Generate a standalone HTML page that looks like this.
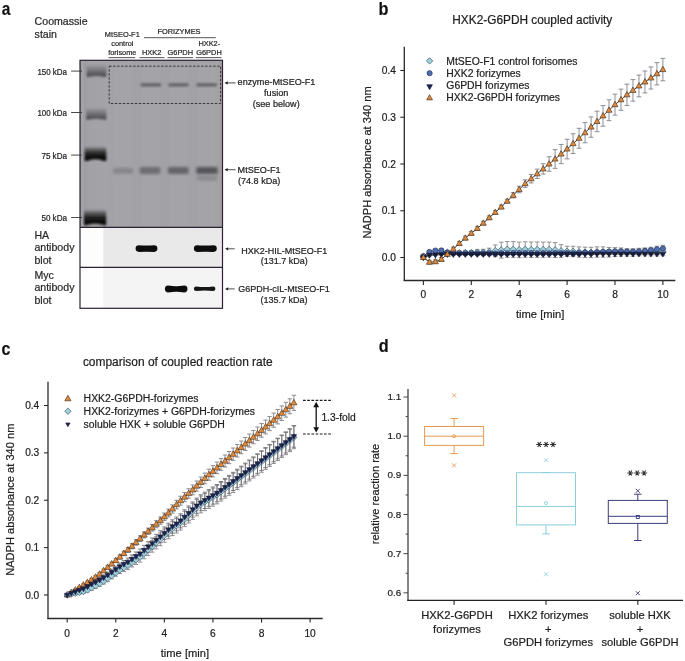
<!DOCTYPE html>
<html><head><meta charset="utf-8"><style>
html,body{margin:0;padding:0;background:#fff;}
body{width:685px;height:661px;position:relative;overflow:hidden;font-family:"Liberation Sans", sans-serif;}
svg text{font-family:"Liberation Sans", sans-serif;stroke:#1a1a1a;stroke-width:0.2px;}
</style></head><body>
<svg width="685" height="661" viewBox="0 0 685 661" style="position:absolute;left:0;top:0;filter:blur(0.38px)">
<defs>
<filter id="bl1" x="-50%" y="-50%" width="200%" height="200%"><feGaussianBlur stdDeviation="0.9"/></filter>
<filter id="bl2" x="-50%" y="-50%" width="200%" height="200%"><feGaussianBlur stdDeviation="1.4"/></filter>
<filter id="bl12" x="-50%" y="-50%" width="200%" height="200%"><feGaussianBlur stdDeviation="1.2"/></filter>
<filter id="bl05" x="-50%" y="-50%" width="200%" height="200%"><feGaussianBlur stdDeviation="0.5"/></filter>
<linearGradient id="gelg" x1="0" y1="0" x2="1" y2="0">
<stop offset="0" stop-color="#8e8e92"/><stop offset="0.04" stop-color="#9a9a9e"/><stop offset="0.2" stop-color="#a4a4a8"/><stop offset="0.3" stop-color="#acacb0"/><stop offset="1" stop-color="#a9a9ad"/>
</linearGradient>
</defs>
<text transform="translate(1.8,15.1) scale(0.86,1)" font-size="18" font-weight="bold" fill="#111">a</text>
<text x="34.60" y="25.40" font-size="10.6" text-anchor="start" fill="#2a2a2a" font-weight="normal" >Coomassie</text>
<text x="34.60" y="37.70" font-size="10.6" text-anchor="start" fill="#2a2a2a" font-weight="normal" >stain</text>
<text x="122.30" y="37.10" font-size="7.4" text-anchor="middle" fill="#2a2a2a" font-weight="normal" >MtSEO-F1</text>
<text x="122.30" y="46.20" font-size="7.4" text-anchor="middle" fill="#2a2a2a" font-weight="normal" >control</text>
<text x="122.30" y="55.10" font-size="7.4" text-anchor="middle" fill="#2a2a2a" font-weight="normal" >forisome</text>
<text x="179.00" y="34.20" font-size="7.4" text-anchor="middle" fill="#2a2a2a" font-weight="normal" >FORIZYMES</text>
<line x1="144.00" y1="37.70" x2="215.80" y2="37.70" stroke="#444" stroke-width="0.9" />
<text x="151.60" y="55.10" font-size="7.4" text-anchor="middle" fill="#2a2a2a" font-weight="normal" >HXK2</text>
<text x="180.30" y="55.10" font-size="7.4" text-anchor="middle" fill="#2a2a2a" font-weight="normal" >G6PDH</text>
<text x="209.30" y="45.80" font-size="7.4" text-anchor="middle" fill="#2a2a2a" font-weight="normal" >HXK2-</text>
<text x="209.00" y="55.10" font-size="7.4" text-anchor="middle" fill="#2a2a2a" font-weight="normal" >G6PDH</text>
<line x1="108.50" y1="57.60" x2="135.10" y2="57.60" stroke="#666" stroke-width="1.1" />
<line x1="139.50" y1="57.60" x2="164.50" y2="57.60" stroke="#666" stroke-width="1.1" />
<line x1="167.40" y1="57.60" x2="193.00" y2="57.60" stroke="#666" stroke-width="1.1" />
<line x1="195.80" y1="57.60" x2="221.50" y2="57.60" stroke="#666" stroke-width="1.1" />
<linearGradient id="gelg2" x1="0" y1="0" x2="1" y2="0"><stop offset="0" stop-color="#8a898e"/><stop offset="0.012" stop-color="#a8a7ac"/><stop offset="0.03" stop-color="#9e9da2"/><stop offset="0.06" stop-color="#a2a1a5"/><stop offset="0.19" stop-color="#a4a3a7"/><stop offset="0.24" stop-color="#a2a1a5"/><stop offset="1" stop-color="#a2a1a5"/></linearGradient>
<rect x="80.0" y="60.3" width="142.5" height="167" fill="url(#gelg2)"/>
<rect x="113.7" y="61" width="18" height="166" fill="#a9a8ac" opacity="0.4" filter="url(#bl2)"/>
<rect x="142" y="61" width="18" height="166" fill="#a9a8ac" opacity="0.4" filter="url(#bl2)"/>
<rect x="169.9" y="61" width="18" height="166" fill="#a9a8ac" opacity="0.4" filter="url(#bl2)"/>
<rect x="197.7" y="61" width="18" height="166" fill="#a9a8ac" opacity="0.4" filter="url(#bl2)"/>
<linearGradient id="lb" x1="0" y1="0" x2="0" y2="1"><stop offset="0" stop-color="#707074" stop-opacity="0.05"/><stop offset="0.3" stop-color="#68686c" stop-opacity="0.5"/><stop offset="0.65" stop-color="#58585c" stop-opacity="0.85"/><stop offset="1" stop-color="#4a4a4e" stop-opacity="1"/></linearGradient>
<linearGradient id="lbd" x1="0" y1="0" x2="0" y2="1"><stop offset="0" stop-color="#444" stop-opacity="0.1"/><stop offset="0.25" stop-color="#333" stop-opacity="0.7"/><stop offset="0.55" stop-color="#151515" stop-opacity="0.97"/><stop offset="1" stop-color="#0a0a0a" stop-opacity="1"/></linearGradient>
<path d="M86.6,65.5Q86.6,64.5 89.6,64.5L103.4,64.5Q106.4,64.5 106.4,65.5L106.4,76.4Q105.4,77.4 102.4,76.4Q96.5,75.5 90.6,76.4Q87.6,77.4 86.6,76.4Z" fill="url(#lb)" filter="url(#bl1)"/>
<path d="M86.2,108.5Q86.2,107.5 89.2,107.5L103.4,107.5Q106.4,107.5 106.4,108.5L106.4,119.2Q105.4,120.2 102.4,119.2Q96.30000000000001,118.3 90.2,119.2Q87.2,120.2 86.2,119.2Z" fill="url(#lb)" filter="url(#bl1)"/>
<path d="M84.6,147.5Q84.6,146.5 87.6,146.5L103.3,146.5Q106.3,146.5 106.3,147.5L106.3,160.4Q105.3,161.4 102.3,160.4Q95.44999999999999,158.0 88.6,160.4Q85.6,161.4 84.6,160.4Z" fill="url(#lbd)" filter="url(#bl12)"/>
<path d="M84.0,210.5Q84.0,209.5 87.0,209.5L103.2,209.5Q106.2,209.5 106.2,210.5L106.2,224.8Q105.2,225.8 102.2,224.8Q95.1,222.8 88.0,224.8Q85.0,225.8 84.0,224.8Z" fill="url(#lbd)" filter="url(#bl12)"/>
<rect x="113" y="167.8" width="20" height="6.0" rx="2" fill="#7c7c80" opacity="0.72" filter="url(#bl2)"/>
<rect x="139.6" y="167.1" width="20.80000000000001" height="7.0" rx="2" fill="#646468" opacity="0.85" filter="url(#bl2)"/>
<rect x="167.9" y="167.1" width="20.799999999999983" height="7.0" rx="2" fill="#5c5c60" opacity="0.88" filter="url(#bl2)"/>
<rect x="196.2" y="166.9" width="21.600000000000023" height="7.0" rx="2" fill="#505054" opacity="0.92" filter="url(#bl2)"/>
<rect x="196.7" y="175.79999999999998" width="20.600000000000023" height="4.8" rx="2" fill="#7e7e82" opacity="0.7" filter="url(#bl2)"/>
<rect x="140.5" y="83.2" width="20.80000000000001" height="3.2" rx="1.6" fill="#5c5c60" opacity="0.9" filter="url(#bl1)"/>
<rect x="168.2" y="83.2" width="20.5" height="3.2" rx="1.6" fill="#5c5c60" opacity="0.9" filter="url(#bl1)"/>
<rect x="196.2" y="83.2" width="20.80000000000001" height="3.2" rx="1.6" fill="#5c5c60" opacity="0.9" filter="url(#bl1)"/>
<rect x="109.2" y="66.2" width="111.4" height="37.3" fill="none" stroke="#2a2a2a" stroke-width="0.9" stroke-dasharray="2.4,1.6"/>
<rect x="80.0" y="227.3" width="142.5" height="40" fill="#e9e9e9"/>
<rect x="80.0" y="227.3" width="23.3" height="40" fill="#fdfdfd"/>
<rect x="80.0" y="267.3" width="142.5" height="41" fill="#f4f4f4"/>
<rect x="80.0" y="267.3" width="23.3" height="41" fill="#fefefe"/>
<path d="M138.9,245.29999999999998Q146.5,245.7 154.1,245.29999999999998A3.3,3.3 0 0 1 154.1,251.9Q146.5,251.5 138.9,251.9A3.3,3.3 0 0 1 138.9,245.29999999999998Z" fill="#111" filter="url(#bl05)"/>
<path d="M197.20000000000002,245.29999999999998Q205.35000000000002,245.7 213.5,245.29999999999998A3.3,3.3 0 0 1 213.5,251.9Q205.35000000000002,251.5 197.20000000000002,251.9A3.3,3.3 0 0 1 197.20000000000002,245.29999999999998Z" fill="#111" filter="url(#bl05)"/>
<path d="M168.3,285.6Q176.2,286.8 184.1,285.6A3.4,3.4 0 0 1 184.1,292.4Q176.2,291.2 168.3,292.4A3.4,3.4 0 0 1 168.3,285.6Z" fill="#111" filter="url(#bl05)"/>
<path d="M196.20000000000002,286.5Q204.65,287.5 213.1,286.5A2.3,2.3 0 0 1 213.1,291.1Q204.65,290.1 196.20000000000002,291.1A2.3,2.3 0 0 1 196.20000000000002,286.5Z" fill="#161616" filter="url(#bl05)"/>
<rect x="80.0" y="60.3" width="142.5" height="248" fill="none" stroke="#2c2232" stroke-width="1.2"/>
<line x1="80.00" y1="227.30" x2="222.50" y2="227.30" stroke="#2c2232" stroke-width="1.2" />
<line x1="80.00" y1="267.30" x2="222.50" y2="267.30" stroke="#2c2232" stroke-width="1.2" />
<text x="67.00" y="74.70" font-size="8.3" text-anchor="end" fill="#1e1e1e" font-weight="normal" textLength="29.6" lengthAdjust="spacingAndGlyphs">150 kDa</text>
<line x1="71.10" y1="71.10" x2="82.00" y2="71.10" stroke="#333" stroke-width="0.9" />
<text x="67.00" y="116.10" font-size="8.3" text-anchor="end" fill="#1e1e1e" font-weight="normal" textLength="29.6" lengthAdjust="spacingAndGlyphs">100 kDa</text>
<line x1="71.10" y1="112.50" x2="82.00" y2="112.50" stroke="#333" stroke-width="0.9" />
<text x="67.00" y="158.70" font-size="8.3" text-anchor="end" fill="#1e1e1e" font-weight="normal" textLength="25.6" lengthAdjust="spacingAndGlyphs">75 kDa</text>
<line x1="71.10" y1="155.10" x2="82.00" y2="155.10" stroke="#333" stroke-width="0.9" />
<text x="67.00" y="221.10" font-size="8.3" text-anchor="end" fill="#1e1e1e" font-weight="normal" textLength="25.6" lengthAdjust="spacingAndGlyphs">50 kDa</text>
<line x1="71.10" y1="217.50" x2="82.00" y2="217.50" stroke="#333" stroke-width="0.9" />
<text x="34.40" y="238.90" font-size="10.6" text-anchor="start" fill="#2a2a2a" font-weight="normal" >HA</text>
<text x="34.40" y="251.20" font-size="10.6" text-anchor="start" fill="#2a2a2a" font-weight="normal" >antibody</text>
<text x="34.40" y="263.50" font-size="10.6" text-anchor="start" fill="#2a2a2a" font-weight="normal" >blot</text>
<text x="34.40" y="278.90" font-size="10.6" text-anchor="start" fill="#2a2a2a" font-weight="normal" >Myc</text>
<text x="34.40" y="291.20" font-size="10.6" text-anchor="start" fill="#2a2a2a" font-weight="normal" >antibody</text>
<text x="34.40" y="303.50" font-size="10.6" text-anchor="start" fill="#2a2a2a" font-weight="normal" >blot</text>
<path d="M235.6,82.9H226.5" stroke="#222" stroke-width="0.8"/>
<path d="M224.5,82.9L227.7,81.30000000000001L227.7,84.5Z" fill="#222"/>
<text x="237.60" y="85.40" font-size="9.1" text-anchor="start" fill="#222" font-weight="normal" >enzyme-MtSEO-F1</text>
<text x="276.20" y="96.00" font-size="9.1" text-anchor="middle" fill="#222" font-weight="normal" >fusion</text>
<text x="276.20" y="106.60" font-size="9.1" text-anchor="middle" fill="#222" font-weight="normal" >(see below)</text>
<path d="M235.6,169.7H226.5" stroke="#222" stroke-width="0.8"/>
<path d="M224.5,169.7L227.7,168.1L227.7,171.29999999999998Z" fill="#222"/>
<text x="237.60" y="173.30" font-size="9.1" text-anchor="start" fill="#222" font-weight="normal" >MtSEO-F1</text>
<text x="237.90" y="183.90" font-size="9.1" text-anchor="start" fill="#222" font-weight="normal" >(74.8 kDa)</text>
<path d="M234.7,248.8H227" stroke="#222" stroke-width="0.8"/>
<path d="M225,248.8L228.2,247.20000000000002L228.2,250.4Z" fill="#222"/>
<text x="284.20" y="253.50" font-size="9.0" text-anchor="middle" fill="#222" font-weight="normal" >HXK2-HIL-MtSEO-F1</text>
<text x="284.20" y="264.20" font-size="9.0" text-anchor="middle" fill="#222" font-weight="normal" >(131.7 kDa)</text>
<path d="M234.7,288.9H227" stroke="#222" stroke-width="0.8"/>
<path d="M225,288.9L228.2,287.29999999999995L228.2,290.5Z" fill="#222"/>
<text x="284.00" y="292.40" font-size="9.0" text-anchor="middle" fill="#222" font-weight="normal" >G6PDH-cIL-MtSEO-F1</text>
<text x="284.00" y="302.60" font-size="9.0" text-anchor="middle" fill="#222" font-weight="normal" >(135.7 kDa)</text>
<text transform="translate(378.4,14.6) scale(0.88,1)" font-size="18.4" font-weight="bold" fill="#111">b</text>
<text x="452.30" y="24.00" font-size="11.85" text-anchor="start" fill="#222" font-weight="normal" >HXK2-G6PDH coupled activity</text>
<line x1="404.30" y1="46.80" x2="404.30" y2="281.10" stroke="#2a2a2a" stroke-width="1.3" />
<line x1="403.70" y1="280.50" x2="675.30" y2="280.50" stroke="#2a2a2a" stroke-width="1.3" />
<line x1="400.30" y1="257.50" x2="404.30" y2="257.50" stroke="#2a2a2a" stroke-width="1.1" />
<text x="395.90" y="261.00" font-size="10.2" text-anchor="end" fill="#222" font-weight="normal" >0.0</text>
<line x1="400.30" y1="210.75" x2="404.30" y2="210.75" stroke="#2a2a2a" stroke-width="1.1" />
<text x="395.90" y="214.25" font-size="10.2" text-anchor="end" fill="#222" font-weight="normal" >0.1</text>
<line x1="400.30" y1="164.00" x2="404.30" y2="164.00" stroke="#2a2a2a" stroke-width="1.1" />
<text x="395.90" y="167.50" font-size="10.2" text-anchor="end" fill="#222" font-weight="normal" >0.2</text>
<line x1="400.30" y1="117.25" x2="404.30" y2="117.25" stroke="#2a2a2a" stroke-width="1.1" />
<text x="395.90" y="120.75" font-size="10.2" text-anchor="end" fill="#222" font-weight="normal" >0.3</text>
<line x1="400.30" y1="70.50" x2="404.30" y2="70.50" stroke="#2a2a2a" stroke-width="1.1" />
<text x="395.90" y="74.00" font-size="10.2" text-anchor="end" fill="#222" font-weight="normal" >0.4</text>
<line x1="423.40" y1="280.50" x2="423.40" y2="284.90" stroke="#2a2a2a" stroke-width="1.1" />
<text x="423.40" y="297.80" font-size="10.2" text-anchor="middle" fill="#222" font-weight="normal" >0</text>
<line x1="471.30" y1="280.50" x2="471.30" y2="284.90" stroke="#2a2a2a" stroke-width="1.1" />
<text x="471.30" y="297.80" font-size="10.2" text-anchor="middle" fill="#222" font-weight="normal" >2</text>
<line x1="519.20" y1="280.50" x2="519.20" y2="284.90" stroke="#2a2a2a" stroke-width="1.1" />
<text x="519.20" y="297.80" font-size="10.2" text-anchor="middle" fill="#222" font-weight="normal" >4</text>
<line x1="567.10" y1="280.50" x2="567.10" y2="284.90" stroke="#2a2a2a" stroke-width="1.1" />
<text x="567.10" y="297.80" font-size="10.2" text-anchor="middle" fill="#222" font-weight="normal" >6</text>
<line x1="615.00" y1="280.50" x2="615.00" y2="284.90" stroke="#2a2a2a" stroke-width="1.1" />
<text x="615.00" y="297.80" font-size="10.2" text-anchor="middle" fill="#222" font-weight="normal" >8</text>
<line x1="662.90" y1="280.50" x2="662.90" y2="284.90" stroke="#2a2a2a" stroke-width="1.1" />
<text x="662.90" y="297.80" font-size="10.2" text-anchor="middle" fill="#222" font-weight="normal" >10</text>
<text x="540.20" y="318.20" font-size="11.2" text-anchor="middle" fill="#222" font-weight="normal" >time [min]</text>
<text transform="translate(371.1,162.4) rotate(-90)" font-size="11.1" text-anchor="middle" fill="#222">NADPH absorbance at 340 nm</text>
<path d="M423.40,255.59V258.40M421.10,255.59H425.70M421.10,258.40H425.70" stroke="#7e7e86" stroke-width="0.85" fill="none"/>
<path d="M423.40,254.72V257.52M421.10,254.72H425.70M421.10,257.52H425.70" stroke="#7e7e86" stroke-width="0.85" fill="none"/>
<path d="M429.39,253.08V256.00M427.09,253.08H431.69M427.09,256.00H431.69" stroke="#7e7e86" stroke-width="0.85" fill="none"/>
<path d="M429.39,250.66V253.47M427.09,250.66H431.69M427.09,253.47H431.69" stroke="#7e7e86" stroke-width="0.85" fill="none"/>
<path d="M435.38,251.93V254.97M433.07,251.93H437.68M433.07,254.97H437.68" stroke="#7e7e86" stroke-width="0.85" fill="none"/>
<path d="M435.38,249.24V252.05M433.07,249.24H437.68M433.07,252.05H437.68" stroke="#7e7e86" stroke-width="0.85" fill="none"/>
<path d="M441.36,251.47V254.63M439.06,251.47H443.66M439.06,254.63H443.66" stroke="#7e7e86" stroke-width="0.85" fill="none"/>
<path d="M441.36,249.12V251.92M439.06,249.12H443.66M439.06,251.92H443.66" stroke="#7e7e86" stroke-width="0.85" fill="none"/>
<path d="M447.35,250.89V254.17M445.05,250.89H449.65M445.05,254.17H449.65" stroke="#7e7e86" stroke-width="0.85" fill="none"/>
<path d="M447.35,251.15V253.96M445.05,251.15H449.65M445.05,253.96H449.65" stroke="#7e7e86" stroke-width="0.85" fill="none"/>
<path d="M453.34,250.72V254.11M451.04,250.72H455.64M451.04,254.11H455.64" stroke="#7e7e86" stroke-width="0.85" fill="none"/>
<path d="M453.34,251.83V254.63M451.04,251.83H455.64M451.04,254.63H455.64" stroke="#7e7e86" stroke-width="0.85" fill="none"/>
<path d="M459.32,251.12V254.62M457.02,251.12H461.62M457.02,254.62H461.62" stroke="#7e7e86" stroke-width="0.85" fill="none"/>
<path d="M459.32,252.05V254.86M457.02,252.05H461.62M457.02,254.86H461.62" stroke="#7e7e86" stroke-width="0.85" fill="none"/>
<path d="M465.31,250.88V254.50M463.01,250.88H467.61M463.01,254.50H467.61" stroke="#7e7e86" stroke-width="0.85" fill="none"/>
<path d="M465.31,252.06V254.86M463.01,252.06H467.61M463.01,254.86H467.61" stroke="#7e7e86" stroke-width="0.85" fill="none"/>
<path d="M471.30,250.82V254.56M469.00,250.82H473.60M469.00,254.56H473.60" stroke="#7e7e86" stroke-width="0.85" fill="none"/>
<path d="M471.30,251.92V254.73M469.00,251.92H473.60M469.00,254.73H473.60" stroke="#7e7e86" stroke-width="0.85" fill="none"/>
<path d="M477.29,249.75V254.74M474.99,249.75H479.59M474.99,254.74H479.59" stroke="#7e7e86" stroke-width="0.85" fill="none"/>
<path d="M477.29,252.11V254.92M474.99,252.11H479.59M474.99,254.92H479.59" stroke="#7e7e86" stroke-width="0.85" fill="none"/>
<path d="M483.27,249.28V255.51M480.97,249.28H485.57M480.97,255.51H485.57" stroke="#7e7e86" stroke-width="0.85" fill="none"/>
<path d="M483.27,252.11V254.92M480.97,252.11H485.57M480.97,254.92H485.57" stroke="#7e7e86" stroke-width="0.85" fill="none"/>
<path d="M489.26,248.18V255.66M486.96,248.18H491.56M486.96,255.66H491.56" stroke="#7e7e86" stroke-width="0.85" fill="none"/>
<path d="M489.26,251.88V254.68M486.96,251.88H491.56M486.96,254.68H491.56" stroke="#7e7e86" stroke-width="0.85" fill="none"/>
<path d="M495.25,245.00V256.69M492.95,245.00H497.55M492.95,256.69H497.55" stroke="#7e7e86" stroke-width="0.85" fill="none"/>
<path d="M495.25,252.20V255.00M492.95,252.20H497.55M492.95,255.00H497.55" stroke="#7e7e86" stroke-width="0.85" fill="none"/>
<path d="M501.24,242.24V258.13M498.94,242.24H503.54M498.94,258.13H503.54" stroke="#7e7e86" stroke-width="0.85" fill="none"/>
<path d="M501.24,251.90V254.71M498.94,251.90H503.54M498.94,254.71H503.54" stroke="#7e7e86" stroke-width="0.85" fill="none"/>
<path d="M507.22,241.53V257.32M504.92,241.53H509.52M504.92,257.32H509.52" stroke="#7e7e86" stroke-width="0.85" fill="none"/>
<path d="M507.22,251.99V254.80M504.92,251.99H509.52M504.92,254.80H509.52" stroke="#7e7e86" stroke-width="0.85" fill="none"/>
<path d="M513.21,241.64V257.33M510.91,241.64H515.51M510.91,257.33H515.51" stroke="#7e7e86" stroke-width="0.85" fill="none"/>
<path d="M513.21,251.73V254.54M510.91,251.73H515.51M510.91,254.54H515.51" stroke="#7e7e86" stroke-width="0.85" fill="none"/>
<path d="M519.20,242.12V257.70M516.90,242.12H521.50M516.90,257.70H521.50" stroke="#7e7e86" stroke-width="0.85" fill="none"/>
<path d="M519.20,251.71V254.51M516.90,251.71H521.50M516.90,254.51H521.50" stroke="#7e7e86" stroke-width="0.85" fill="none"/>
<path d="M525.19,241.77V257.25M522.89,241.77H527.49M522.89,257.25H527.49" stroke="#7e7e86" stroke-width="0.85" fill="none"/>
<path d="M525.19,251.75V254.55M522.89,251.75H527.49M522.89,254.55H527.49" stroke="#7e7e86" stroke-width="0.85" fill="none"/>
<path d="M531.17,242.04V257.42M528.88,242.04H533.47M528.88,257.42H533.47" stroke="#7e7e86" stroke-width="0.85" fill="none"/>
<path d="M531.17,251.75V254.55M528.88,251.75H533.47M528.88,254.55H533.47" stroke="#7e7e86" stroke-width="0.85" fill="none"/>
<path d="M537.16,241.98V257.25M534.86,241.98H539.46M534.86,257.25H539.46" stroke="#7e7e86" stroke-width="0.85" fill="none"/>
<path d="M537.16,251.98V254.79M534.86,251.98H539.46M534.86,254.79H539.46" stroke="#7e7e86" stroke-width="0.85" fill="none"/>
<path d="M543.15,242.13V257.30M540.85,242.13H545.45M540.85,257.30H545.45" stroke="#7e7e86" stroke-width="0.85" fill="none"/>
<path d="M543.15,251.76V254.57M540.85,251.76H545.45M540.85,254.57H545.45" stroke="#7e7e86" stroke-width="0.85" fill="none"/>
<path d="M549.14,242.11V257.17M546.84,242.11H551.44M546.84,257.17H551.44" stroke="#7e7e86" stroke-width="0.85" fill="none"/>
<path d="M549.14,251.95V254.76M546.84,251.95H551.44M546.84,254.76H551.44" stroke="#7e7e86" stroke-width="0.85" fill="none"/>
<path d="M555.12,242.58V257.54M552.83,242.58H557.42M552.83,257.54H557.42" stroke="#7e7e86" stroke-width="0.85" fill="none"/>
<path d="M555.12,251.72V254.52M552.83,251.72H557.42M552.83,254.52H557.42" stroke="#7e7e86" stroke-width="0.85" fill="none"/>
<path d="M561.11,244.67V257.29M558.81,244.67H563.41M558.81,257.29H563.41" stroke="#7e7e86" stroke-width="0.85" fill="none"/>
<path d="M561.11,251.84V254.65M558.81,251.84H563.41M558.81,254.65H563.41" stroke="#7e7e86" stroke-width="0.85" fill="none"/>
<path d="M567.10,246.25V256.53M564.80,246.25H569.40M564.80,256.53H569.40" stroke="#7e7e86" stroke-width="0.85" fill="none"/>
<path d="M567.10,251.70V254.50M564.80,251.70H569.40M564.80,254.50H569.40" stroke="#7e7e86" stroke-width="0.85" fill="none"/>
<path d="M573.09,246.30V256.59M570.79,246.30H575.39M570.79,256.59H575.39" stroke="#7e7e86" stroke-width="0.85" fill="none"/>
<path d="M573.09,251.93V254.73M570.79,251.93H575.39M570.79,254.73H575.39" stroke="#7e7e86" stroke-width="0.85" fill="none"/>
<path d="M579.07,246.89V257.18M576.77,246.89H581.37M576.77,257.18H581.37" stroke="#7e7e86" stroke-width="0.85" fill="none"/>
<path d="M579.07,251.73V254.54M576.77,251.73H581.37M576.77,254.54H581.37" stroke="#7e7e86" stroke-width="0.85" fill="none"/>
<path d="M585.06,247.19V257.47M582.76,247.19H587.36M582.76,257.47H587.36" stroke="#7e7e86" stroke-width="0.85" fill="none"/>
<path d="M585.06,251.13V253.93M582.76,251.13H587.36M582.76,253.93H587.36" stroke="#7e7e86" stroke-width="0.85" fill="none"/>
<path d="M591.05,247.30V257.58M588.75,247.30H593.35M588.75,257.58H593.35" stroke="#7e7e86" stroke-width="0.85" fill="none"/>
<path d="M591.05,251.62V254.43M588.75,251.62H593.35M588.75,254.43H593.35" stroke="#7e7e86" stroke-width="0.85" fill="none"/>
<path d="M597.04,246.89V257.17M594.74,246.89H599.34M594.74,257.17H599.34" stroke="#7e7e86" stroke-width="0.85" fill="none"/>
<path d="M597.04,250.93V253.73M594.74,250.93H599.34M594.74,253.73H599.34" stroke="#7e7e86" stroke-width="0.85" fill="none"/>
<path d="M603.02,246.86V257.14M600.73,246.86H605.32M600.73,257.14H605.32" stroke="#7e7e86" stroke-width="0.85" fill="none"/>
<path d="M603.02,250.61V253.41M600.73,250.61H605.32M600.73,253.41H605.32" stroke="#7e7e86" stroke-width="0.85" fill="none"/>
<path d="M609.01,247.44V257.02M606.71,247.44H611.31M606.71,257.02H611.31" stroke="#7e7e86" stroke-width="0.85" fill="none"/>
<path d="M609.01,250.20V253.01M606.71,250.20H611.31M606.71,253.01H611.31" stroke="#7e7e86" stroke-width="0.85" fill="none"/>
<path d="M615.00,247.61V256.50M612.70,247.61H617.30M612.70,256.50H617.30" stroke="#7e7e86" stroke-width="0.85" fill="none"/>
<path d="M615.00,250.04V252.84M612.70,250.04H617.30M612.70,252.84H617.30" stroke="#7e7e86" stroke-width="0.85" fill="none"/>
<path d="M620.99,247.95V256.13M618.69,247.95H623.29M618.69,256.13H623.29" stroke="#7e7e86" stroke-width="0.85" fill="none"/>
<path d="M620.99,249.60V253.10M618.69,249.60H623.29M618.69,253.10H623.29" stroke="#7e7e86" stroke-width="0.85" fill="none"/>
<path d="M626.97,248.59V256.07M624.67,248.59H629.27M624.67,256.07H629.27" stroke="#7e7e86" stroke-width="0.85" fill="none"/>
<path d="M626.97,249.64V253.85M624.67,249.64H629.27M624.67,253.85H629.27" stroke="#7e7e86" stroke-width="0.85" fill="none"/>
<path d="M632.96,248.75V256.23M630.66,248.75H635.26M630.66,256.23H635.26" stroke="#7e7e86" stroke-width="0.85" fill="none"/>
<path d="M632.96,249.29V254.20M630.66,249.29H635.26M630.66,254.20H635.26" stroke="#7e7e86" stroke-width="0.85" fill="none"/>
<path d="M638.95,248.27V255.75M636.65,248.27H641.25M636.65,255.75H641.25" stroke="#7e7e86" stroke-width="0.85" fill="none"/>
<path d="M638.95,248.84V254.45M636.65,248.84H641.25M636.65,254.45H641.25" stroke="#7e7e86" stroke-width="0.85" fill="none"/>
<path d="M644.94,248.28V255.76M642.64,248.28H647.24M642.64,255.76H647.24" stroke="#7e7e86" stroke-width="0.85" fill="none"/>
<path d="M644.94,248.06V253.90M642.64,248.06H647.24M642.64,253.90H647.24" stroke="#7e7e86" stroke-width="0.85" fill="none"/>
<path d="M650.92,248.37V255.85M648.62,248.37H653.22M648.62,255.85H653.22" stroke="#7e7e86" stroke-width="0.85" fill="none"/>
<path d="M650.92,247.28V253.36M648.62,247.28H653.22M648.62,253.36H653.22" stroke="#7e7e86" stroke-width="0.85" fill="none"/>
<path d="M656.91,248.41V255.89M654.61,248.41H659.21M654.61,255.89H659.21" stroke="#7e7e86" stroke-width="0.85" fill="none"/>
<path d="M656.91,246.21V252.52M654.61,246.21H659.21M654.61,252.52H659.21" stroke="#7e7e86" stroke-width="0.85" fill="none"/>
<path d="M662.90,248.22V255.70M660.60,248.22H665.20M660.60,255.70H665.20" stroke="#7e7e86" stroke-width="0.85" fill="none"/>
<path d="M662.90,245.31V251.85M660.60,245.31H665.20M660.60,251.85H665.20" stroke="#7e7e86" stroke-width="0.85" fill="none"/>
<path d="M423.40,255.63V259.37M421.00,255.63H425.80M421.00,259.37H425.80" stroke="#7e828c" stroke-width="0.9" fill="none"/>
<path d="M429.39,260.31V264.05M426.99,260.31H431.79M426.99,264.05H431.79" stroke="#7e828c" stroke-width="0.9" fill="none"/>
<path d="M435.38,259.84V263.58M432.98,259.84H437.77M432.98,263.58H437.77" stroke="#7e828c" stroke-width="0.9" fill="none"/>
<path d="M441.36,257.50V261.24M438.96,257.50H443.76M438.96,261.24H443.76" stroke="#7e828c" stroke-width="0.9" fill="none"/>
<path d="M447.35,252.36V256.10M444.95,252.36H449.75M444.95,256.10H449.75" stroke="#7e828c" stroke-width="0.9" fill="none"/>
<path d="M453.34,247.22V250.96M450.94,247.22H455.74M450.94,250.96H455.74" stroke="#7e828c" stroke-width="0.9" fill="none"/>
<path d="M459.32,241.60V245.34M456.93,241.60H461.72M456.93,245.34H461.72" stroke="#7e828c" stroke-width="0.9" fill="none"/>
<path d="M465.31,236.23V239.97M462.91,236.23H467.71M462.91,239.97H467.71" stroke="#7e828c" stroke-width="0.9" fill="none"/>
<path d="M471.30,231.44V235.18M468.90,231.44H473.70M468.90,235.18H473.70" stroke="#7e828c" stroke-width="0.9" fill="none"/>
<path d="M477.29,226.65V230.38M474.89,226.65H479.69M474.89,230.38H479.69" stroke="#7e828c" stroke-width="0.9" fill="none"/>
<path d="M483.27,221.27V225.01M480.88,221.27H485.67M480.88,225.01H485.67" stroke="#7e828c" stroke-width="0.9" fill="none"/>
<path d="M489.26,215.89V219.63M486.86,215.89H491.66M486.86,219.63H491.66" stroke="#7e828c" stroke-width="0.9" fill="none"/>
<path d="M495.25,210.52V214.26M492.85,210.52H497.65M492.85,214.26H497.65" stroke="#7e828c" stroke-width="0.9" fill="none"/>
<path d="M501.24,205.14V208.88M498.84,205.14H503.64M498.84,208.88H503.64" stroke="#7e828c" stroke-width="0.9" fill="none"/>
<path d="M507.22,199.30V203.04M504.82,199.30H509.62M504.82,203.04H509.62" stroke="#7e828c" stroke-width="0.9" fill="none"/>
<path d="M513.21,192.75V197.89M510.81,192.75H515.61M510.81,197.89H515.61" stroke="#7e828c" stroke-width="0.9" fill="none"/>
<path d="M519.20,186.21V192.75M516.80,186.21H521.60M516.80,192.75H521.60" stroke="#7e828c" stroke-width="0.9" fill="none"/>
<path d="M525.19,179.89V187.38M522.79,179.89H527.59M522.79,187.38H527.59" stroke="#7e828c" stroke-width="0.9" fill="none"/>
<path d="M531.17,174.52V182.93M528.77,174.52H533.57M528.77,182.93H533.57" stroke="#7e828c" stroke-width="0.9" fill="none"/>
<path d="M537.16,169.14V178.49M534.76,169.14H539.56M534.76,178.49H539.56" stroke="#7e828c" stroke-width="0.9" fill="none"/>
<path d="M543.15,163.77V174.05M540.75,163.77H545.55M540.75,174.05H545.55" stroke="#7e828c" stroke-width="0.9" fill="none"/>
<path d="M549.14,156.75V171.25M546.74,156.75H551.54M546.74,171.25H551.54" stroke="#7e828c" stroke-width="0.9" fill="none"/>
<path d="M555.12,149.66V168.36M552.73,149.66H557.52M552.73,168.36H557.52" stroke="#7e828c" stroke-width="0.9" fill="none"/>
<path d="M561.11,144.44V163.61M558.71,144.44H563.51M558.71,163.61H563.51" stroke="#7e828c" stroke-width="0.9" fill="none"/>
<path d="M567.10,139.22V158.86M564.70,139.22H569.50M564.70,158.86H569.50" stroke="#7e828c" stroke-width="0.9" fill="none"/>
<path d="M573.09,133.76V153.57M570.69,133.76H575.49M570.69,153.57H575.49" stroke="#7e828c" stroke-width="0.9" fill="none"/>
<path d="M579.07,128.29V148.28M576.67,128.29H581.47M576.67,148.28H581.47" stroke="#7e828c" stroke-width="0.9" fill="none"/>
<path d="M585.06,122.60V142.76M582.66,122.60H587.46M582.66,142.76H587.46" stroke="#7e828c" stroke-width="0.9" fill="none"/>
<path d="M591.05,116.90V137.24M588.65,116.90H593.45M588.65,137.24H593.45" stroke="#7e828c" stroke-width="0.9" fill="none"/>
<path d="M597.04,111.20V131.71M594.64,111.20H599.44M594.64,131.71H599.44" stroke="#7e828c" stroke-width="0.9" fill="none"/>
<path d="M603.02,105.50V126.19M600.62,105.50H605.42M600.62,126.19H605.42" stroke="#7e828c" stroke-width="0.9" fill="none"/>
<path d="M609.01,99.81V120.67M606.61,99.81H611.41M606.61,120.67H611.41" stroke="#7e828c" stroke-width="0.9" fill="none"/>
<path d="M615.00,94.11V115.15M612.60,94.11H617.40M612.60,115.15H617.40" stroke="#7e828c" stroke-width="0.9" fill="none"/>
<path d="M620.99,89.11V110.33M618.59,89.11H623.39M618.59,110.33H623.39" stroke="#7e828c" stroke-width="0.9" fill="none"/>
<path d="M626.97,84.12V105.50M624.57,84.12H629.37M624.57,105.50H629.37" stroke="#7e828c" stroke-width="0.9" fill="none"/>
<path d="M632.96,79.59V101.15M630.56,79.59H635.36M630.56,101.15H635.36" stroke="#7e828c" stroke-width="0.9" fill="none"/>
<path d="M638.95,75.06V96.80M636.55,75.06H641.35M636.55,96.80H641.35" stroke="#7e828c" stroke-width="0.9" fill="none"/>
<path d="M644.94,71.00V92.91M642.54,71.00H647.34M642.54,92.91H647.34" stroke="#7e828c" stroke-width="0.9" fill="none"/>
<path d="M650.92,66.94V89.02M648.52,66.94H653.32M648.52,89.02H653.32" stroke="#7e828c" stroke-width="0.9" fill="none"/>
<path d="M656.91,62.64V84.90M654.51,62.64H659.31M654.51,84.90H659.31" stroke="#7e828c" stroke-width="0.9" fill="none"/>
<path d="M662.90,58.34V80.78M660.50,58.34H665.30M660.50,80.78H665.30" stroke="#7e828c" stroke-width="0.9" fill="none"/>
<polyline points="423.40,256.99 429.39,254.54 435.38,253.45 441.36,253.05 447.35,252.53 453.34,252.41 459.32,252.87 465.31,252.69 471.30,252.69 477.29,252.25 483.27,252.40 489.26,251.92 495.25,250.84 501.24,250.19 507.22,249.42 513.21,249.48 519.20,249.91 525.19,249.51 531.17,249.73 537.16,249.62 543.15,249.71 549.14,249.64 555.12,250.06 561.11,250.98 567.10,251.39 573.09,251.45 579.07,252.03 585.06,252.33 591.05,252.44 597.04,252.03 603.02,252.00 609.01,252.23 615.00,252.06 620.99,252.04 626.97,252.33 632.96,252.49 638.95,252.01 644.94,252.02 650.92,252.11 656.91,252.15 662.90,251.96" fill="none" stroke="#222" stroke-width="0.7"/>
<path d="M423.40,253.59L426.80,256.99L423.40,260.39L420.00,256.99Z" fill="#9fd0de" stroke="#26384a" stroke-width="0.6"/>
<path d="M429.39,251.14L432.79,254.54L429.39,257.94L425.99,254.54Z" fill="#9fd0de" stroke="#26384a" stroke-width="0.6"/>
<path d="M435.38,250.05L438.77,253.45L435.38,256.85L431.98,253.45Z" fill="#9fd0de" stroke="#26384a" stroke-width="0.6"/>
<path d="M441.36,249.65L444.76,253.05L441.36,256.45L437.96,253.05Z" fill="#9fd0de" stroke="#26384a" stroke-width="0.6"/>
<path d="M447.35,249.13L450.75,252.53L447.35,255.93L443.95,252.53Z" fill="#9fd0de" stroke="#26384a" stroke-width="0.6"/>
<path d="M453.34,249.01L456.74,252.41L453.34,255.81L449.94,252.41Z" fill="#9fd0de" stroke="#26384a" stroke-width="0.6"/>
<path d="M459.32,249.47L462.72,252.87L459.32,256.27L455.93,252.87Z" fill="#9fd0de" stroke="#26384a" stroke-width="0.6"/>
<path d="M465.31,249.29L468.71,252.69L465.31,256.09L461.91,252.69Z" fill="#9fd0de" stroke="#26384a" stroke-width="0.6"/>
<path d="M471.30,249.29L474.70,252.69L471.30,256.09L467.90,252.69Z" fill="#9fd0de" stroke="#26384a" stroke-width="0.6"/>
<path d="M477.29,248.85L480.69,252.25L477.29,255.65L473.89,252.25Z" fill="#9fd0de" stroke="#26384a" stroke-width="0.6"/>
<path d="M483.27,249.00L486.67,252.40L483.27,255.80L479.88,252.40Z" fill="#9fd0de" stroke="#26384a" stroke-width="0.6"/>
<path d="M489.26,248.52L492.66,251.92L489.26,255.32L485.86,251.92Z" fill="#9fd0de" stroke="#26384a" stroke-width="0.6"/>
<path d="M495.25,247.44L498.65,250.84L495.25,254.24L491.85,250.84Z" fill="#9fd0de" stroke="#26384a" stroke-width="0.6"/>
<path d="M501.24,246.79L504.64,250.19L501.24,253.59L497.84,250.19Z" fill="#9fd0de" stroke="#26384a" stroke-width="0.6"/>
<path d="M507.22,246.02L510.62,249.42L507.22,252.82L503.82,249.42Z" fill="#9fd0de" stroke="#26384a" stroke-width="0.6"/>
<path d="M513.21,246.08L516.61,249.48L513.21,252.88L509.81,249.48Z" fill="#9fd0de" stroke="#26384a" stroke-width="0.6"/>
<path d="M519.20,246.51L522.60,249.91L519.20,253.31L515.80,249.91Z" fill="#9fd0de" stroke="#26384a" stroke-width="0.6"/>
<path d="M525.19,246.11L528.59,249.51L525.19,252.91L521.79,249.51Z" fill="#9fd0de" stroke="#26384a" stroke-width="0.6"/>
<path d="M531.17,246.33L534.57,249.73L531.17,253.13L527.77,249.73Z" fill="#9fd0de" stroke="#26384a" stroke-width="0.6"/>
<path d="M537.16,246.22L540.56,249.62L537.16,253.02L533.76,249.62Z" fill="#9fd0de" stroke="#26384a" stroke-width="0.6"/>
<path d="M543.15,246.31L546.55,249.71L543.15,253.11L539.75,249.71Z" fill="#9fd0de" stroke="#26384a" stroke-width="0.6"/>
<path d="M549.14,246.24L552.54,249.64L549.14,253.04L545.74,249.64Z" fill="#9fd0de" stroke="#26384a" stroke-width="0.6"/>
<path d="M555.12,246.66L558.52,250.06L555.12,253.46L551.73,250.06Z" fill="#9fd0de" stroke="#26384a" stroke-width="0.6"/>
<path d="M561.11,247.58L564.51,250.98L561.11,254.38L557.71,250.98Z" fill="#9fd0de" stroke="#26384a" stroke-width="0.6"/>
<path d="M567.10,247.99L570.50,251.39L567.10,254.79L563.70,251.39Z" fill="#9fd0de" stroke="#26384a" stroke-width="0.6"/>
<path d="M573.09,248.05L576.49,251.45L573.09,254.85L569.69,251.45Z" fill="#9fd0de" stroke="#26384a" stroke-width="0.6"/>
<path d="M579.07,248.63L582.47,252.03L579.07,255.43L575.67,252.03Z" fill="#9fd0de" stroke="#26384a" stroke-width="0.6"/>
<path d="M585.06,248.93L588.46,252.33L585.06,255.73L581.66,252.33Z" fill="#9fd0de" stroke="#26384a" stroke-width="0.6"/>
<path d="M591.05,249.04L594.45,252.44L591.05,255.84L587.65,252.44Z" fill="#9fd0de" stroke="#26384a" stroke-width="0.6"/>
<path d="M597.04,248.63L600.44,252.03L597.04,255.43L593.64,252.03Z" fill="#9fd0de" stroke="#26384a" stroke-width="0.6"/>
<path d="M603.02,248.60L606.42,252.00L603.02,255.40L599.62,252.00Z" fill="#9fd0de" stroke="#26384a" stroke-width="0.6"/>
<path d="M609.01,248.83L612.41,252.23L609.01,255.63L605.61,252.23Z" fill="#9fd0de" stroke="#26384a" stroke-width="0.6"/>
<path d="M615.00,248.66L618.40,252.06L615.00,255.46L611.60,252.06Z" fill="#9fd0de" stroke="#26384a" stroke-width="0.6"/>
<path d="M620.99,248.64L624.39,252.04L620.99,255.44L617.59,252.04Z" fill="#9fd0de" stroke="#26384a" stroke-width="0.6"/>
<path d="M626.97,248.93L630.37,252.33L626.97,255.73L623.57,252.33Z" fill="#9fd0de" stroke="#26384a" stroke-width="0.6"/>
<path d="M632.96,249.09L636.36,252.49L632.96,255.89L629.56,252.49Z" fill="#9fd0de" stroke="#26384a" stroke-width="0.6"/>
<path d="M638.95,248.61L642.35,252.01L638.95,255.41L635.55,252.01Z" fill="#9fd0de" stroke="#26384a" stroke-width="0.6"/>
<path d="M644.94,248.62L648.34,252.02L644.94,255.42L641.54,252.02Z" fill="#9fd0de" stroke="#26384a" stroke-width="0.6"/>
<path d="M650.92,248.71L654.32,252.11L650.92,255.51L647.52,252.11Z" fill="#9fd0de" stroke="#26384a" stroke-width="0.6"/>
<path d="M656.91,248.75L660.31,252.15L656.91,255.55L653.51,252.15Z" fill="#9fd0de" stroke="#26384a" stroke-width="0.6"/>
<path d="M662.90,248.56L666.30,251.96L662.90,255.36L659.50,251.96Z" fill="#9fd0de" stroke="#26384a" stroke-width="0.6"/>
<polyline points="423.40,256.12 429.39,252.06 435.38,250.64 441.36,250.52 447.35,252.56 453.34,253.23 459.32,253.45 465.31,253.46 471.30,253.33 477.29,253.51 483.27,253.52 489.26,253.28 495.25,253.60 501.24,253.30 507.22,253.40 513.21,253.14 519.20,253.11 525.19,253.15 531.17,253.15 537.16,253.39 543.15,253.17 549.14,253.35 555.12,253.12 561.11,253.25 567.10,253.10 573.09,253.33 579.07,253.13 585.06,252.53 591.05,253.03 597.04,252.33 603.02,252.01 609.01,251.61 615.00,251.44 620.99,251.35 626.97,251.75 632.96,251.74 638.95,251.65 644.94,250.98 650.92,250.32 656.91,249.36 662.90,248.58" fill="none" stroke="#222" stroke-width="0.7"/>
<circle cx="423.40" cy="256.12" r="2.70" fill="#4f6eae" stroke="#1c2a50" stroke-width="0.6"/>
<circle cx="429.39" cy="252.06" r="2.70" fill="#4f6eae" stroke="#1c2a50" stroke-width="0.6"/>
<circle cx="435.38" cy="250.64" r="2.70" fill="#4f6eae" stroke="#1c2a50" stroke-width="0.6"/>
<circle cx="441.36" cy="250.52" r="2.70" fill="#4f6eae" stroke="#1c2a50" stroke-width="0.6"/>
<circle cx="447.35" cy="252.56" r="2.70" fill="#4f6eae" stroke="#1c2a50" stroke-width="0.6"/>
<circle cx="453.34" cy="253.23" r="2.70" fill="#4f6eae" stroke="#1c2a50" stroke-width="0.6"/>
<circle cx="459.32" cy="253.45" r="2.70" fill="#4f6eae" stroke="#1c2a50" stroke-width="0.6"/>
<circle cx="465.31" cy="253.46" r="2.70" fill="#4f6eae" stroke="#1c2a50" stroke-width="0.6"/>
<circle cx="471.30" cy="253.33" r="2.70" fill="#4f6eae" stroke="#1c2a50" stroke-width="0.6"/>
<circle cx="477.29" cy="253.51" r="2.70" fill="#4f6eae" stroke="#1c2a50" stroke-width="0.6"/>
<circle cx="483.27" cy="253.52" r="2.70" fill="#4f6eae" stroke="#1c2a50" stroke-width="0.6"/>
<circle cx="489.26" cy="253.28" r="2.70" fill="#4f6eae" stroke="#1c2a50" stroke-width="0.6"/>
<circle cx="495.25" cy="253.60" r="2.70" fill="#4f6eae" stroke="#1c2a50" stroke-width="0.6"/>
<circle cx="501.24" cy="253.30" r="2.70" fill="#4f6eae" stroke="#1c2a50" stroke-width="0.6"/>
<circle cx="507.22" cy="253.40" r="2.70" fill="#4f6eae" stroke="#1c2a50" stroke-width="0.6"/>
<circle cx="513.21" cy="253.14" r="2.70" fill="#4f6eae" stroke="#1c2a50" stroke-width="0.6"/>
<circle cx="519.20" cy="253.11" r="2.70" fill="#4f6eae" stroke="#1c2a50" stroke-width="0.6"/>
<circle cx="525.19" cy="253.15" r="2.70" fill="#4f6eae" stroke="#1c2a50" stroke-width="0.6"/>
<circle cx="531.17" cy="253.15" r="2.70" fill="#4f6eae" stroke="#1c2a50" stroke-width="0.6"/>
<circle cx="537.16" cy="253.39" r="2.70" fill="#4f6eae" stroke="#1c2a50" stroke-width="0.6"/>
<circle cx="543.15" cy="253.17" r="2.70" fill="#4f6eae" stroke="#1c2a50" stroke-width="0.6"/>
<circle cx="549.14" cy="253.35" r="2.70" fill="#4f6eae" stroke="#1c2a50" stroke-width="0.6"/>
<circle cx="555.12" cy="253.12" r="2.70" fill="#4f6eae" stroke="#1c2a50" stroke-width="0.6"/>
<circle cx="561.11" cy="253.25" r="2.70" fill="#4f6eae" stroke="#1c2a50" stroke-width="0.6"/>
<circle cx="567.10" cy="253.10" r="2.70" fill="#4f6eae" stroke="#1c2a50" stroke-width="0.6"/>
<circle cx="573.09" cy="253.33" r="2.70" fill="#4f6eae" stroke="#1c2a50" stroke-width="0.6"/>
<circle cx="579.07" cy="253.13" r="2.70" fill="#4f6eae" stroke="#1c2a50" stroke-width="0.6"/>
<circle cx="585.06" cy="252.53" r="2.70" fill="#4f6eae" stroke="#1c2a50" stroke-width="0.6"/>
<circle cx="591.05" cy="253.03" r="2.70" fill="#4f6eae" stroke="#1c2a50" stroke-width="0.6"/>
<circle cx="597.04" cy="252.33" r="2.70" fill="#4f6eae" stroke="#1c2a50" stroke-width="0.6"/>
<circle cx="603.02" cy="252.01" r="2.70" fill="#4f6eae" stroke="#1c2a50" stroke-width="0.6"/>
<circle cx="609.01" cy="251.61" r="2.70" fill="#4f6eae" stroke="#1c2a50" stroke-width="0.6"/>
<circle cx="615.00" cy="251.44" r="2.70" fill="#4f6eae" stroke="#1c2a50" stroke-width="0.6"/>
<circle cx="620.99" cy="251.35" r="2.70" fill="#4f6eae" stroke="#1c2a50" stroke-width="0.6"/>
<circle cx="626.97" cy="251.75" r="2.70" fill="#4f6eae" stroke="#1c2a50" stroke-width="0.6"/>
<circle cx="632.96" cy="251.74" r="2.70" fill="#4f6eae" stroke="#1c2a50" stroke-width="0.6"/>
<circle cx="638.95" cy="251.65" r="2.70" fill="#4f6eae" stroke="#1c2a50" stroke-width="0.6"/>
<circle cx="644.94" cy="250.98" r="2.70" fill="#4f6eae" stroke="#1c2a50" stroke-width="0.6"/>
<circle cx="650.92" cy="250.32" r="2.70" fill="#4f6eae" stroke="#1c2a50" stroke-width="0.6"/>
<circle cx="656.91" cy="249.36" r="2.70" fill="#4f6eae" stroke="#1c2a50" stroke-width="0.6"/>
<circle cx="662.90" cy="248.58" r="2.70" fill="#4f6eae" stroke="#1c2a50" stroke-width="0.6"/>
<path d="M423.40,260.51L426.10,255.65L420.70,255.65Z" fill="#1d2352" stroke="#0c0f25" stroke-width="0.6"/>
<path d="M429.39,258.18L432.09,253.32L426.69,253.32Z" fill="#1d2352" stroke="#0c0f25" stroke-width="0.6"/>
<path d="M435.38,257.94L438.07,253.08L432.68,253.08Z" fill="#1d2352" stroke="#0c0f25" stroke-width="0.6"/>
<path d="M441.36,257.71L444.06,252.85L438.66,252.85Z" fill="#1d2352" stroke="#0c0f25" stroke-width="0.6"/>
<path d="M447.35,257.47L450.05,252.61L444.65,252.61Z" fill="#1d2352" stroke="#0c0f25" stroke-width="0.6"/>
<path d="M453.34,257.46L456.04,252.60L450.64,252.60Z" fill="#1d2352" stroke="#0c0f25" stroke-width="0.6"/>
<path d="M459.32,257.45L462.02,252.59L456.62,252.59Z" fill="#1d2352" stroke="#0c0f25" stroke-width="0.6"/>
<path d="M465.31,257.44L468.01,252.58L462.61,252.58Z" fill="#1d2352" stroke="#0c0f25" stroke-width="0.6"/>
<path d="M471.30,257.42L474.00,252.56L468.60,252.56Z" fill="#1d2352" stroke="#0c0f25" stroke-width="0.6"/>
<path d="M477.29,257.41L479.99,252.55L474.59,252.55Z" fill="#1d2352" stroke="#0c0f25" stroke-width="0.6"/>
<path d="M483.27,257.40L485.97,252.54L480.57,252.54Z" fill="#1d2352" stroke="#0c0f25" stroke-width="0.6"/>
<path d="M489.26,257.38L491.96,252.52L486.56,252.52Z" fill="#1d2352" stroke="#0c0f25" stroke-width="0.6"/>
<path d="M495.25,257.37L497.95,252.51L492.55,252.51Z" fill="#1d2352" stroke="#0c0f25" stroke-width="0.6"/>
<path d="M501.24,257.36L503.94,252.50L498.54,252.50Z" fill="#1d2352" stroke="#0c0f25" stroke-width="0.6"/>
<path d="M507.22,257.34L509.92,252.48L504.52,252.48Z" fill="#1d2352" stroke="#0c0f25" stroke-width="0.6"/>
<path d="M513.21,257.33L515.91,252.47L510.51,252.47Z" fill="#1d2352" stroke="#0c0f25" stroke-width="0.6"/>
<path d="M519.20,257.32L521.90,252.46L516.50,252.46Z" fill="#1d2352" stroke="#0c0f25" stroke-width="0.6"/>
<path d="M525.19,257.31L527.89,252.45L522.49,252.45Z" fill="#1d2352" stroke="#0c0f25" stroke-width="0.6"/>
<path d="M531.17,257.29L533.88,252.43L528.47,252.43Z" fill="#1d2352" stroke="#0c0f25" stroke-width="0.6"/>
<path d="M537.16,257.28L539.86,252.42L534.46,252.42Z" fill="#1d2352" stroke="#0c0f25" stroke-width="0.6"/>
<path d="M543.15,257.27L545.85,252.41L540.45,252.41Z" fill="#1d2352" stroke="#0c0f25" stroke-width="0.6"/>
<path d="M549.14,257.25L551.84,252.39L546.44,252.39Z" fill="#1d2352" stroke="#0c0f25" stroke-width="0.6"/>
<path d="M555.12,257.24L557.83,252.38L552.42,252.38Z" fill="#1d2352" stroke="#0c0f25" stroke-width="0.6"/>
<path d="M561.11,257.23L563.81,252.37L558.41,252.37Z" fill="#1d2352" stroke="#0c0f25" stroke-width="0.6"/>
<path d="M567.10,257.21L569.80,252.35L564.40,252.35Z" fill="#1d2352" stroke="#0c0f25" stroke-width="0.6"/>
<path d="M573.09,257.20L575.79,252.34L570.39,252.34Z" fill="#1d2352" stroke="#0c0f25" stroke-width="0.6"/>
<path d="M579.07,257.19L581.77,252.33L576.37,252.33Z" fill="#1d2352" stroke="#0c0f25" stroke-width="0.6"/>
<path d="M585.06,257.18L587.76,252.32L582.36,252.32Z" fill="#1d2352" stroke="#0c0f25" stroke-width="0.6"/>
<path d="M591.05,257.16L593.75,252.30L588.35,252.30Z" fill="#1d2352" stroke="#0c0f25" stroke-width="0.6"/>
<path d="M597.04,257.15L599.74,252.29L594.34,252.29Z" fill="#1d2352" stroke="#0c0f25" stroke-width="0.6"/>
<path d="M603.02,257.14L605.73,252.28L600.32,252.28Z" fill="#1d2352" stroke="#0c0f25" stroke-width="0.6"/>
<path d="M609.01,257.12L611.71,252.26L606.31,252.26Z" fill="#1d2352" stroke="#0c0f25" stroke-width="0.6"/>
<path d="M615.00,257.11L617.70,252.25L612.30,252.25Z" fill="#1d2352" stroke="#0c0f25" stroke-width="0.6"/>
<path d="M620.99,257.10L623.69,252.24L618.29,252.24Z" fill="#1d2352" stroke="#0c0f25" stroke-width="0.6"/>
<path d="M626.97,257.08L629.67,252.22L624.27,252.22Z" fill="#1d2352" stroke="#0c0f25" stroke-width="0.6"/>
<path d="M632.96,257.07L635.66,252.21L630.26,252.21Z" fill="#1d2352" stroke="#0c0f25" stroke-width="0.6"/>
<path d="M638.95,257.06L641.65,252.20L636.25,252.20Z" fill="#1d2352" stroke="#0c0f25" stroke-width="0.6"/>
<path d="M644.94,257.05L647.64,252.19L642.24,252.19Z" fill="#1d2352" stroke="#0c0f25" stroke-width="0.6"/>
<path d="M650.92,257.03L653.62,252.17L648.22,252.17Z" fill="#1d2352" stroke="#0c0f25" stroke-width="0.6"/>
<path d="M656.91,257.02L659.61,252.16L654.21,252.16Z" fill="#1d2352" stroke="#0c0f25" stroke-width="0.6"/>
<path d="M662.90,257.01L665.60,252.15L660.20,252.15Z" fill="#1d2352" stroke="#0c0f25" stroke-width="0.6"/>
<polyline points="423.40,257.50 429.39,255.16 435.38,254.93 441.36,254.69 447.35,254.46 453.34,254.45 459.32,254.44 465.31,254.42 471.30,254.41 477.29,254.40 483.27,254.38 489.26,254.37 495.25,254.36 501.24,254.34 507.22,254.33 513.21,254.32 519.20,254.31 525.19,254.29 531.17,254.28 537.16,254.27 543.15,254.25 549.14,254.24 555.12,254.23 561.11,254.21 567.10,254.20 573.09,254.19 579.07,254.18 585.06,254.16 591.05,254.15 597.04,254.14 603.02,254.12 609.01,254.11 615.00,254.10 620.99,254.08 626.97,254.07 632.96,254.06 638.95,254.05 644.94,254.03 650.92,254.02 656.91,254.01 662.90,253.99" fill="none" stroke="#111" stroke-width="0.8"/>
<polyline points="423.40,257.50 429.39,262.18 435.38,261.71 441.36,259.37 447.35,254.23 453.34,249.09 459.32,243.47 465.31,238.10 471.30,233.31 477.29,228.51 483.27,223.14 489.26,217.76 495.25,212.39 501.24,207.01 507.22,201.17 513.21,195.32 519.20,189.48 525.19,183.63 531.17,178.73 537.16,173.82 543.15,168.91 549.14,164.00 555.12,159.01 561.11,154.03 567.10,149.04 573.09,143.66 579.07,138.29 585.06,132.68 591.05,127.07 597.04,121.46 603.02,115.85 609.01,110.24 615.00,104.63 620.99,99.72 626.97,94.81 632.96,90.37 638.95,85.93 644.94,81.95 650.92,77.98 656.91,73.77 662.90,69.56" fill="none" stroke="#1a1a1a" stroke-width="0.8"/>
<path d="M423.40,254.15L426.40,259.55L420.40,259.55Z" fill="#e08a3e" stroke="#3a2510" stroke-width="0.6"/>
<path d="M429.39,258.83L432.39,264.23L426.39,264.23Z" fill="#e08a3e" stroke="#3a2510" stroke-width="0.6"/>
<path d="M435.38,258.36L438.38,263.76L432.38,263.76Z" fill="#e08a3e" stroke="#3a2510" stroke-width="0.6"/>
<path d="M441.36,256.02L444.36,261.42L438.36,261.42Z" fill="#e08a3e" stroke="#3a2510" stroke-width="0.6"/>
<path d="M447.35,250.88L450.35,256.28L444.35,256.28Z" fill="#e08a3e" stroke="#3a2510" stroke-width="0.6"/>
<path d="M453.34,245.74L456.34,251.14L450.34,251.14Z" fill="#e08a3e" stroke="#3a2510" stroke-width="0.6"/>
<path d="M459.32,240.13L462.32,245.53L456.32,245.53Z" fill="#e08a3e" stroke="#3a2510" stroke-width="0.6"/>
<path d="M465.31,234.75L468.31,240.15L462.31,240.15Z" fill="#e08a3e" stroke="#3a2510" stroke-width="0.6"/>
<path d="M471.30,229.96L474.30,235.36L468.30,235.36Z" fill="#e08a3e" stroke="#3a2510" stroke-width="0.6"/>
<path d="M477.29,225.17L480.29,230.57L474.29,230.57Z" fill="#e08a3e" stroke="#3a2510" stroke-width="0.6"/>
<path d="M483.27,219.79L486.27,225.19L480.27,225.19Z" fill="#e08a3e" stroke="#3a2510" stroke-width="0.6"/>
<path d="M489.26,214.41L492.26,219.81L486.26,219.81Z" fill="#e08a3e" stroke="#3a2510" stroke-width="0.6"/>
<path d="M495.25,209.04L498.25,214.44L492.25,214.44Z" fill="#e08a3e" stroke="#3a2510" stroke-width="0.6"/>
<path d="M501.24,203.66L504.24,209.06L498.24,209.06Z" fill="#e08a3e" stroke="#3a2510" stroke-width="0.6"/>
<path d="M507.22,197.82L510.22,203.22L504.22,203.22Z" fill="#e08a3e" stroke="#3a2510" stroke-width="0.6"/>
<path d="M513.21,191.97L516.21,197.37L510.21,197.37Z" fill="#e08a3e" stroke="#3a2510" stroke-width="0.6"/>
<path d="M519.20,186.13L522.20,191.53L516.20,191.53Z" fill="#e08a3e" stroke="#3a2510" stroke-width="0.6"/>
<path d="M525.19,180.29L528.19,185.69L522.19,185.69Z" fill="#e08a3e" stroke="#3a2510" stroke-width="0.6"/>
<path d="M531.17,175.38L534.17,180.78L528.17,180.78Z" fill="#e08a3e" stroke="#3a2510" stroke-width="0.6"/>
<path d="M537.16,170.47L540.16,175.87L534.16,175.87Z" fill="#e08a3e" stroke="#3a2510" stroke-width="0.6"/>
<path d="M543.15,165.56L546.15,170.96L540.15,170.96Z" fill="#e08a3e" stroke="#3a2510" stroke-width="0.6"/>
<path d="M549.14,160.65L552.14,166.05L546.14,166.05Z" fill="#e08a3e" stroke="#3a2510" stroke-width="0.6"/>
<path d="M555.12,155.67L558.12,161.07L552.12,161.07Z" fill="#e08a3e" stroke="#3a2510" stroke-width="0.6"/>
<path d="M561.11,150.68L564.11,156.08L558.11,156.08Z" fill="#e08a3e" stroke="#3a2510" stroke-width="0.6"/>
<path d="M567.10,145.69L570.10,151.09L564.10,151.09Z" fill="#e08a3e" stroke="#3a2510" stroke-width="0.6"/>
<path d="M573.09,140.32L576.09,145.72L570.09,145.72Z" fill="#e08a3e" stroke="#3a2510" stroke-width="0.6"/>
<path d="M579.07,134.94L582.07,140.34L576.07,140.34Z" fill="#e08a3e" stroke="#3a2510" stroke-width="0.6"/>
<path d="M585.06,129.33L588.06,134.73L582.06,134.73Z" fill="#e08a3e" stroke="#3a2510" stroke-width="0.6"/>
<path d="M591.05,123.72L594.05,129.12L588.05,129.12Z" fill="#e08a3e" stroke="#3a2510" stroke-width="0.6"/>
<path d="M597.04,118.11L600.04,123.51L594.04,123.51Z" fill="#e08a3e" stroke="#3a2510" stroke-width="0.6"/>
<path d="M603.02,112.50L606.02,117.90L600.02,117.90Z" fill="#e08a3e" stroke="#3a2510" stroke-width="0.6"/>
<path d="M609.01,106.89L612.01,112.29L606.01,112.29Z" fill="#e08a3e" stroke="#3a2510" stroke-width="0.6"/>
<path d="M615.00,101.28L618.00,106.68L612.00,106.68Z" fill="#e08a3e" stroke="#3a2510" stroke-width="0.6"/>
<path d="M620.99,96.37L623.99,101.77L617.99,101.77Z" fill="#e08a3e" stroke="#3a2510" stroke-width="0.6"/>
<path d="M626.97,91.46L629.97,96.86L623.97,96.86Z" fill="#e08a3e" stroke="#3a2510" stroke-width="0.6"/>
<path d="M632.96,87.02L635.96,92.42L629.96,92.42Z" fill="#e08a3e" stroke="#3a2510" stroke-width="0.6"/>
<path d="M638.95,82.58L641.95,87.98L635.95,87.98Z" fill="#e08a3e" stroke="#3a2510" stroke-width="0.6"/>
<path d="M644.94,78.61L647.94,84.01L641.94,84.01Z" fill="#e08a3e" stroke="#3a2510" stroke-width="0.6"/>
<path d="M650.92,74.63L653.92,80.03L647.92,80.03Z" fill="#e08a3e" stroke="#3a2510" stroke-width="0.6"/>
<path d="M656.91,70.42L659.91,75.82L653.91,75.82Z" fill="#e08a3e" stroke="#3a2510" stroke-width="0.6"/>
<path d="M662.90,66.22L665.90,71.62L659.90,71.62Z" fill="#e08a3e" stroke="#3a2510" stroke-width="0.6"/>
<path d="M429.60,57.70L432.80,60.90L429.60,64.10L426.40,60.90Z" fill="#9fd0de" stroke="#2c3f50" stroke-width="0.6"/>
<circle cx="429.60" cy="73.20" r="2.60" fill="#4f6eae" stroke="#1c2a50" stroke-width="0.6"/>
<path d="M429.60,89.72L432.40,84.68L426.80,84.68Z" fill="#1d2352" stroke="#0c0f25" stroke-width="0.6"/>
<path d="M429.60,94.66L432.50,99.88L426.70,99.88Z" fill="#e08a3e" stroke="#3a2510" stroke-width="0.6"/>
<text x="446.30" y="64.50" font-size="10.4" text-anchor="start" fill="#222" font-weight="normal" >MtSEO-F1 control forisomes</text>
<text x="446.30" y="76.80" font-size="10.4" text-anchor="start" fill="#222" font-weight="normal" >HXK2 forizymes</text>
<text x="446.30" y="89.10" font-size="10.4" text-anchor="start" fill="#222" font-weight="normal" >G6PDH forizymes</text>
<text x="446.30" y="101.40" font-size="10.4" text-anchor="start" fill="#222" font-weight="normal" >HXK2-G6PDH forizymes</text>
<text transform="translate(1.5,354.6) scale(0.9,1)" font-size="17.8" font-weight="bold" fill="#111">c</text>
<text x="82.90" y="365.80" font-size="11.95" text-anchor="start" fill="#222" font-weight="normal" >comparison of coupled reaction rate</text>
<line x1="48.00" y1="381.80" x2="48.00" y2="619.10" stroke="#2a2a2a" stroke-width="1.3" />
<line x1="47.40" y1="618.50" x2="322.70" y2="618.50" stroke="#2a2a2a" stroke-width="1.3" />
<line x1="44.00" y1="595.00" x2="48.00" y2="595.00" stroke="#2a2a2a" stroke-width="1.1" />
<text x="39.30" y="598.50" font-size="10.2" text-anchor="end" fill="#222" font-weight="normal" >0.0</text>
<line x1="44.00" y1="547.62" x2="48.00" y2="547.62" stroke="#2a2a2a" stroke-width="1.1" />
<text x="39.30" y="551.12" font-size="10.2" text-anchor="end" fill="#222" font-weight="normal" >0.1</text>
<line x1="44.00" y1="500.25" x2="48.00" y2="500.25" stroke="#2a2a2a" stroke-width="1.1" />
<text x="39.30" y="503.75" font-size="10.2" text-anchor="end" fill="#222" font-weight="normal" >0.2</text>
<line x1="44.00" y1="452.88" x2="48.00" y2="452.88" stroke="#2a2a2a" stroke-width="1.1" />
<text x="39.30" y="456.38" font-size="10.2" text-anchor="end" fill="#222" font-weight="normal" >0.3</text>
<line x1="44.00" y1="405.50" x2="48.00" y2="405.50" stroke="#2a2a2a" stroke-width="1.1" />
<text x="39.30" y="409.00" font-size="10.2" text-anchor="end" fill="#222" font-weight="normal" >0.4</text>
<line x1="67.20" y1="618.50" x2="67.20" y2="622.60" stroke="#2a2a2a" stroke-width="1.1" />
<text x="67.20" y="636.90" font-size="10.2" text-anchor="middle" fill="#222" font-weight="normal" >0</text>
<line x1="115.78" y1="618.50" x2="115.78" y2="622.60" stroke="#2a2a2a" stroke-width="1.1" />
<text x="115.78" y="636.90" font-size="10.2" text-anchor="middle" fill="#222" font-weight="normal" >2</text>
<line x1="164.36" y1="618.50" x2="164.36" y2="622.60" stroke="#2a2a2a" stroke-width="1.1" />
<text x="164.36" y="636.90" font-size="10.2" text-anchor="middle" fill="#222" font-weight="normal" >4</text>
<line x1="212.94" y1="618.50" x2="212.94" y2="622.60" stroke="#2a2a2a" stroke-width="1.1" />
<text x="212.94" y="636.90" font-size="10.2" text-anchor="middle" fill="#222" font-weight="normal" >6</text>
<line x1="261.52" y1="618.50" x2="261.52" y2="622.60" stroke="#2a2a2a" stroke-width="1.1" />
<text x="261.52" y="636.90" font-size="10.2" text-anchor="middle" fill="#222" font-weight="normal" >8</text>
<line x1="310.10" y1="618.50" x2="310.10" y2="622.60" stroke="#2a2a2a" stroke-width="1.1" />
<text x="310.10" y="636.90" font-size="10.2" text-anchor="middle" fill="#222" font-weight="normal" >10</text>
<text x="184.90" y="657.00" font-size="11.2" text-anchor="middle" fill="#222" font-weight="normal" >time [min]</text>
<text transform="translate(14.3,499.7) rotate(-90)" font-size="11.1" text-anchor="middle" fill="#222">NADPH absorbance at 340 nm</text>
<path d="M67.20,593.58V596.42M65.00,593.58H69.40M65.00,596.42H69.40" stroke="#7e7e84" stroke-width="0.85" fill="none"/>
<path d="M67.20,593.65V596.35M65.00,593.65H69.40M65.00,596.35H69.40" stroke="#6a6a70" stroke-width="0.85" fill="none"/>
<path d="M71.25,592.56V595.71M69.05,592.56H73.45M69.05,595.71H73.45" stroke="#7e7e84" stroke-width="0.85" fill="none"/>
<path d="M71.25,591.84V594.85M69.05,591.84H73.45M69.05,594.85H73.45" stroke="#6a6a70" stroke-width="0.85" fill="none"/>
<path d="M75.30,591.53V595.01M73.10,591.53H77.50M73.10,595.01H77.50" stroke="#7e7e84" stroke-width="0.85" fill="none"/>
<path d="M75.30,590.04V593.34M73.10,590.04H77.50M73.10,593.34H77.50" stroke="#6a6a70" stroke-width="0.85" fill="none"/>
<path d="M79.34,590.51V594.30M77.14,590.51H81.55M77.14,594.30H81.55" stroke="#7e7e84" stroke-width="0.85" fill="none"/>
<path d="M79.34,588.24V591.84M77.14,588.24H81.55M77.14,591.84H81.55" stroke="#6a6a70" stroke-width="0.85" fill="none"/>
<path d="M83.39,589.49V593.59M81.19,589.49H85.59M81.19,593.59H85.59" stroke="#7e7e84" stroke-width="0.85" fill="none"/>
<path d="M83.39,586.75V590.65M81.19,586.75H85.59M81.19,590.65H85.59" stroke="#6a6a70" stroke-width="0.85" fill="none"/>
<path d="M87.44,587.73V592.15M85.24,587.73H89.64M85.24,592.15H89.64" stroke="#7e7e84" stroke-width="0.85" fill="none"/>
<path d="M87.44,584.52V588.72M85.24,584.52H89.64M85.24,588.72H89.64" stroke="#6a6a70" stroke-width="0.85" fill="none"/>
<path d="M91.49,585.52V590.26M89.29,585.52H93.69M89.29,590.26H93.69" stroke="#7e7e84" stroke-width="0.85" fill="none"/>
<path d="M91.49,581.85V586.35M89.29,581.85H93.69M89.29,586.35H93.69" stroke="#6a6a70" stroke-width="0.85" fill="none"/>
<path d="M95.54,583.32V588.37M93.34,583.32H97.74M93.34,588.37H97.74" stroke="#7e7e84" stroke-width="0.85" fill="none"/>
<path d="M95.54,579.70V584.50M93.34,579.70H97.74M93.34,584.50H97.74" stroke="#6a6a70" stroke-width="0.85" fill="none"/>
<path d="M99.59,580.97V586.34M97.39,580.97H101.79M97.39,586.34H101.79" stroke="#7e7e84" stroke-width="0.85" fill="none"/>
<path d="M99.59,577.40V582.50M97.39,577.40H101.79M97.39,582.50H101.79" stroke="#6a6a70" stroke-width="0.85" fill="none"/>
<path d="M103.64,578.40V584.08M101.44,578.40H105.84M101.44,584.08H105.84" stroke="#7e7e84" stroke-width="0.85" fill="none"/>
<path d="M103.64,574.87V580.27M101.44,574.87H105.84M101.44,580.27H105.84" stroke="#6a6a70" stroke-width="0.85" fill="none"/>
<path d="M107.68,575.61V581.61M105.48,575.61H109.88M105.48,581.61H109.88" stroke="#7e7e84" stroke-width="0.85" fill="none"/>
<path d="M107.68,572.12V577.83M105.48,572.12H109.88M105.48,577.83H109.88" stroke="#6a6a70" stroke-width="0.85" fill="none"/>
<path d="M111.73,572.62V578.94M109.53,572.62H113.93M109.53,578.94H113.93" stroke="#7e7e84" stroke-width="0.85" fill="none"/>
<path d="M111.73,569.19V575.19M109.53,569.19H113.93M109.53,575.19H113.93" stroke="#6a6a70" stroke-width="0.85" fill="none"/>
<path d="M115.78,569.59V576.22M113.58,569.59H117.98M113.58,576.22H117.98" stroke="#7e7e84" stroke-width="0.85" fill="none"/>
<path d="M115.78,566.20V572.50M113.58,566.20H117.98M113.58,572.50H117.98" stroke="#6a6a70" stroke-width="0.85" fill="none"/>
<path d="M119.83,566.41V573.59M117.63,566.41H122.03M117.63,573.59H122.03" stroke="#7e7e84" stroke-width="0.85" fill="none"/>
<path d="M119.83,563.07V569.90M117.63,563.07H122.03M117.63,569.90H122.03" stroke="#6a6a70" stroke-width="0.85" fill="none"/>
<path d="M123.88,563.77V571.51M121.68,563.77H126.08M121.68,571.51H126.08" stroke="#7e7e84" stroke-width="0.85" fill="none"/>
<path d="M123.88,560.49V567.84M121.68,560.49H126.08M121.68,567.84H126.08" stroke="#6a6a70" stroke-width="0.85" fill="none"/>
<path d="M127.92,561.27V569.56M125.72,561.27H130.12M125.72,569.56H130.12" stroke="#7e7e84" stroke-width="0.85" fill="none"/>
<path d="M127.92,558.04V565.92M125.72,558.04H130.12M125.72,565.92H130.12" stroke="#6a6a70" stroke-width="0.85" fill="none"/>
<path d="M131.97,558.11V566.96M129.77,558.11H134.17M129.77,566.96H134.17" stroke="#7e7e84" stroke-width="0.85" fill="none"/>
<path d="M131.97,554.94V563.34M129.77,554.94H134.17M129.77,563.34H134.17" stroke="#6a6a70" stroke-width="0.85" fill="none"/>
<path d="M136.02,555.09V564.48M133.82,555.09H138.22M133.82,564.48H138.22" stroke="#7e7e84" stroke-width="0.85" fill="none"/>
<path d="M136.02,551.97V560.89M133.82,551.97H138.22M133.82,560.89H138.22" stroke="#6a6a70" stroke-width="0.85" fill="none"/>
<path d="M140.07,552.13V562.07M137.87,552.13H142.27M137.87,562.07H142.27" stroke="#7e7e84" stroke-width="0.85" fill="none"/>
<path d="M140.07,549.06V558.51M137.87,549.06H142.27M137.87,558.51H142.27" stroke="#6a6a70" stroke-width="0.85" fill="none"/>
<path d="M144.12,548.26V558.76M141.92,548.26H146.32M141.92,558.76H146.32" stroke="#7e7e84" stroke-width="0.85" fill="none"/>
<path d="M144.12,545.36V555.34M141.92,545.36H146.32M141.92,555.34H146.32" stroke="#6a6a70" stroke-width="0.85" fill="none"/>
<path d="M148.17,544.40V555.45M145.97,544.40H150.37M145.97,555.45H150.37" stroke="#7e7e84" stroke-width="0.85" fill="none"/>
<path d="M148.17,541.67V552.17M145.97,541.67H150.37M145.97,552.17H150.37" stroke="#6a6a70" stroke-width="0.85" fill="none"/>
<path d="M152.22,540.57V552.18M150.02,540.57H154.41M150.02,552.18H154.41" stroke="#7e7e84" stroke-width="0.85" fill="none"/>
<path d="M152.22,538.02V549.05M150.02,538.02H154.41M150.02,549.05H154.41" stroke="#6a6a70" stroke-width="0.85" fill="none"/>
<path d="M156.26,536.75V548.91M154.06,536.75H158.46M154.06,548.91H158.46" stroke="#7e7e84" stroke-width="0.85" fill="none"/>
<path d="M156.26,534.37V545.92M154.06,534.37H158.46M154.06,545.92H158.46" stroke="#6a6a70" stroke-width="0.85" fill="none"/>
<path d="M160.31,532.92V545.63M158.11,532.92H162.51M158.11,545.63H162.51" stroke="#7e7e84" stroke-width="0.85" fill="none"/>
<path d="M160.31,530.71V542.79M158.11,530.71H162.51M158.11,542.79H162.51" stroke="#6a6a70" stroke-width="0.85" fill="none"/>
<path d="M164.36,528.96V542.22M162.16,528.96H166.56M162.16,542.22H166.56" stroke="#7e7e84" stroke-width="0.85" fill="none"/>
<path d="M164.36,526.92V539.52M162.16,526.92H166.56M162.16,539.52H166.56" stroke="#6a6a70" stroke-width="0.85" fill="none"/>
<path d="M168.41,525.08V538.74M166.21,525.08H170.61M166.21,538.74H170.61" stroke="#7e7e84" stroke-width="0.85" fill="none"/>
<path d="M168.41,523.21V536.18M166.21,523.21H170.61M166.21,536.18H170.61" stroke="#6a6a70" stroke-width="0.85" fill="none"/>
<path d="M172.46,521.54V535.59M170.26,521.54H174.66M170.26,535.59H174.66" stroke="#7e7e84" stroke-width="0.85" fill="none"/>
<path d="M172.46,519.83V533.19M170.26,519.83H174.66M170.26,533.19H174.66" stroke="#6a6a70" stroke-width="0.85" fill="none"/>
<path d="M176.50,518.55V533.00M174.31,518.55H178.70M174.31,533.00H178.70" stroke="#7e7e84" stroke-width="0.85" fill="none"/>
<path d="M176.50,517.02V530.75M174.31,517.02H178.70M174.31,530.75H178.70" stroke="#6a6a70" stroke-width="0.85" fill="none"/>
<path d="M180.55,515.24V530.08M178.35,515.24H182.75M178.35,530.08H182.75" stroke="#7e7e84" stroke-width="0.85" fill="none"/>
<path d="M180.55,513.75V527.85M178.35,513.75H182.75M178.35,527.85H182.75" stroke="#6a6a70" stroke-width="0.85" fill="none"/>
<path d="M184.60,511.29V526.52M182.40,511.29H186.80M182.40,526.52H186.80" stroke="#7e7e84" stroke-width="0.85" fill="none"/>
<path d="M184.60,509.84V524.31M182.40,509.84H186.80M182.40,524.31H186.80" stroke="#6a6a70" stroke-width="0.85" fill="none"/>
<path d="M188.65,507.33V522.97M186.45,507.33H190.85M186.45,522.97H190.85" stroke="#7e7e84" stroke-width="0.85" fill="none"/>
<path d="M188.65,505.93V520.78M186.45,505.93H190.85M186.45,520.78H190.85" stroke="#6a6a70" stroke-width="0.85" fill="none"/>
<path d="M192.70,503.38V519.41M190.50,503.38H194.90M190.50,519.41H194.90" stroke="#7e7e84" stroke-width="0.85" fill="none"/>
<path d="M192.70,502.02V517.24M190.50,502.02H194.90M190.50,517.24H194.90" stroke="#6a6a70" stroke-width="0.85" fill="none"/>
<path d="M196.75,499.43V515.85M194.55,499.43H198.95M194.55,515.85H198.95" stroke="#7e7e84" stroke-width="0.85" fill="none"/>
<path d="M196.75,498.11V513.71M194.55,498.11H198.95M194.55,513.71H198.95" stroke="#6a6a70" stroke-width="0.85" fill="none"/>
<path d="M200.80,496.04V512.85M198.60,496.04H203.00M198.60,512.85H203.00" stroke="#7e7e84" stroke-width="0.85" fill="none"/>
<path d="M200.80,494.76V510.73M198.60,494.76H203.00M198.60,510.73H203.00" stroke="#6a6a70" stroke-width="0.85" fill="none"/>
<path d="M204.84,493.42V510.63M202.64,493.42H207.04M202.64,510.63H207.04" stroke="#7e7e84" stroke-width="0.85" fill="none"/>
<path d="M204.84,492.18V508.53M202.64,492.18H207.04M202.64,508.53H207.04" stroke="#6a6a70" stroke-width="0.85" fill="none"/>
<path d="M208.89,490.80V508.41M206.69,490.80H211.09M206.69,508.41H211.09" stroke="#7e7e84" stroke-width="0.85" fill="none"/>
<path d="M208.89,489.60V506.33M206.69,489.60H211.09M206.69,506.33H211.09" stroke="#6a6a70" stroke-width="0.85" fill="none"/>
<path d="M212.94,488.18V506.18M210.74,488.18H215.14M210.74,506.18H215.14" stroke="#7e7e84" stroke-width="0.85" fill="none"/>
<path d="M212.94,487.03V504.13M210.74,487.03H215.14M210.74,504.13H215.14" stroke="#6a6a70" stroke-width="0.85" fill="none"/>
<path d="M216.99,485.64V503.88M214.79,485.64H219.19M214.79,503.88H219.19" stroke="#7e7e84" stroke-width="0.85" fill="none"/>
<path d="M216.99,484.53V501.85M214.79,484.53H219.19M214.79,501.85H219.19" stroke="#6a6a70" stroke-width="0.85" fill="none"/>
<path d="M221.04,482.58V501.05M218.84,482.58H223.24M218.84,501.05H223.24" stroke="#7e7e84" stroke-width="0.85" fill="none"/>
<path d="M221.04,481.50V499.06M218.84,481.50H223.24M218.84,499.06H223.24" stroke="#6a6a70" stroke-width="0.85" fill="none"/>
<path d="M225.08,479.47V498.18M222.88,479.47H227.28M222.88,498.18H227.28" stroke="#7e7e84" stroke-width="0.85" fill="none"/>
<path d="M225.08,478.44V496.21M222.88,478.44H227.28M222.88,496.21H227.28" stroke="#6a6a70" stroke-width="0.85" fill="none"/>
<path d="M229.13,476.37V495.32M226.93,476.37H231.33M226.93,495.32H231.33" stroke="#7e7e84" stroke-width="0.85" fill="none"/>
<path d="M229.13,475.37V493.37M226.93,475.37H231.33M226.93,493.37H231.33" stroke="#6a6a70" stroke-width="0.85" fill="none"/>
<path d="M233.18,473.26V492.45M230.98,473.26H235.38M230.98,492.45H235.38" stroke="#7e7e84" stroke-width="0.85" fill="none"/>
<path d="M233.18,472.30V490.53M230.98,472.30H235.38M230.98,490.53H235.38" stroke="#6a6a70" stroke-width="0.85" fill="none"/>
<path d="M237.23,470.15V489.57M235.03,470.15H239.43M235.03,489.57H239.43" stroke="#7e7e84" stroke-width="0.85" fill="none"/>
<path d="M237.23,469.23V487.68M235.03,469.23H239.43M235.03,487.68H239.43" stroke="#6a6a70" stroke-width="0.85" fill="none"/>
<path d="M241.28,467.04V486.69M239.08,467.04H243.48M239.08,486.69H243.48" stroke="#7e7e84" stroke-width="0.85" fill="none"/>
<path d="M241.28,466.15V484.83M239.08,466.15H243.48M239.08,484.83H243.48" stroke="#6a6a70" stroke-width="0.85" fill="none"/>
<path d="M245.33,463.92V483.81M243.13,463.92H247.53M243.13,483.81H247.53" stroke="#7e7e84" stroke-width="0.85" fill="none"/>
<path d="M245.33,463.08V481.98M243.13,463.08H247.53M243.13,481.98H247.53" stroke="#6a6a70" stroke-width="0.85" fill="none"/>
<path d="M249.38,460.80V480.93M247.18,460.80H251.57M247.18,480.93H251.57" stroke="#7e7e84" stroke-width="0.85" fill="none"/>
<path d="M249.38,460.00V479.12M247.18,460.00H251.57M247.18,479.12H251.57" stroke="#6a6a70" stroke-width="0.85" fill="none"/>
<path d="M253.42,457.69V478.05M251.22,457.69H255.62M251.22,478.05H255.62" stroke="#7e7e84" stroke-width="0.85" fill="none"/>
<path d="M253.42,456.92V476.27M251.22,456.92H255.62M251.22,476.27H255.62" stroke="#6a6a70" stroke-width="0.85" fill="none"/>
<path d="M257.47,454.57V475.18M255.27,454.57H259.67M255.27,475.18H259.67" stroke="#7e7e84" stroke-width="0.85" fill="none"/>
<path d="M257.47,453.84V473.42M255.27,453.84H259.67M255.27,473.42H259.67" stroke="#6a6a70" stroke-width="0.85" fill="none"/>
<path d="M261.52,451.46V472.30M259.32,451.46H263.72M259.32,472.30H263.72" stroke="#7e7e84" stroke-width="0.85" fill="none"/>
<path d="M261.52,450.77V470.57M259.32,450.77H263.72M259.32,470.57H263.72" stroke="#6a6a70" stroke-width="0.85" fill="none"/>
<path d="M265.57,448.27V469.35M263.37,448.27H267.77M263.37,469.35H267.77" stroke="#7e7e84" stroke-width="0.85" fill="none"/>
<path d="M265.57,447.62V467.65M263.37,447.62H267.77M263.37,467.65H267.77" stroke="#6a6a70" stroke-width="0.85" fill="none"/>
<path d="M269.62,445.09V466.40M267.42,445.09H271.82M267.42,466.40H271.82" stroke="#7e7e84" stroke-width="0.85" fill="none"/>
<path d="M269.62,444.48V464.73M267.42,444.48H271.82M267.42,464.73H271.82" stroke="#6a6a70" stroke-width="0.85" fill="none"/>
<path d="M273.67,441.91V463.46M271.47,441.91H275.87M271.47,463.46H275.87" stroke="#7e7e84" stroke-width="0.85" fill="none"/>
<path d="M273.67,441.34V461.81M271.47,441.34H275.87M271.47,461.81H275.87" stroke="#6a6a70" stroke-width="0.85" fill="none"/>
<path d="M277.71,438.73V460.51M275.51,438.73H279.91M275.51,460.51H279.91" stroke="#7e7e84" stroke-width="0.85" fill="none"/>
<path d="M277.71,438.19V458.89M275.51,438.19H279.91M275.51,458.89H279.91" stroke="#6a6a70" stroke-width="0.85" fill="none"/>
<path d="M281.76,435.55V457.57M279.56,435.55H283.96M279.56,457.57H283.96" stroke="#7e7e84" stroke-width="0.85" fill="none"/>
<path d="M281.76,435.05V455.97M279.56,435.05H283.96M279.56,455.97H283.96" stroke="#6a6a70" stroke-width="0.85" fill="none"/>
<path d="M285.81,432.36V454.62M283.61,432.36H288.01M283.61,454.62H288.01" stroke="#7e7e84" stroke-width="0.85" fill="none"/>
<path d="M285.81,431.91V453.05M283.61,431.91H288.01M283.61,453.05H288.01" stroke="#6a6a70" stroke-width="0.85" fill="none"/>
<path d="M289.86,429.18V451.67M287.66,429.18H292.06M287.66,451.67H292.06" stroke="#7e7e84" stroke-width="0.85" fill="none"/>
<path d="M289.86,428.76V450.13M287.66,428.76H292.06M287.66,450.13H292.06" stroke="#6a6a70" stroke-width="0.85" fill="none"/>
<path d="M293.91,426.00V448.73M291.71,426.00H296.11M291.71,448.73H296.11" stroke="#7e7e84" stroke-width="0.85" fill="none"/>
<path d="M293.91,425.62V447.21M291.71,425.62H296.11M291.71,447.21H296.11" stroke="#6a6a70" stroke-width="0.85" fill="none"/>
<path d="M67.20,594.05V595.95M65.00,594.05H69.40M65.00,595.95H69.40" stroke="#7a7a80" stroke-width="0.85" fill="none"/>
<path d="M71.25,591.49V593.54M69.05,591.49H73.45M69.05,593.54H73.45" stroke="#7a7a80" stroke-width="0.85" fill="none"/>
<path d="M75.30,588.92V591.13M73.10,588.92H77.50M73.10,591.13H77.50" stroke="#7a7a80" stroke-width="0.85" fill="none"/>
<path d="M79.34,586.35V588.72M77.14,586.35H81.55M77.14,588.72H81.55" stroke="#7a7a80" stroke-width="0.85" fill="none"/>
<path d="M83.39,583.79V586.31M81.19,583.79H85.59M81.19,586.31H85.59" stroke="#7a7a80" stroke-width="0.85" fill="none"/>
<path d="M87.44,581.13V583.81M85.24,581.13H89.64M85.24,583.81H89.64" stroke="#7a7a80" stroke-width="0.85" fill="none"/>
<path d="M91.49,578.42V581.26M89.29,578.42H93.69M89.29,581.26H93.69" stroke="#7a7a80" stroke-width="0.85" fill="none"/>
<path d="M95.54,575.71V578.71M93.34,575.71H97.74M93.34,578.71H97.74" stroke="#7a7a80" stroke-width="0.85" fill="none"/>
<path d="M99.59,572.56V575.72M97.39,572.56H101.79M97.39,575.72H101.79" stroke="#7a7a80" stroke-width="0.85" fill="none"/>
<path d="M103.64,569.07V572.38M101.44,569.07H105.84M101.44,572.38H105.84" stroke="#7a7a80" stroke-width="0.85" fill="none"/>
<path d="M107.68,565.59V569.07M105.48,565.59H109.88M105.48,569.07H109.88" stroke="#7a7a80" stroke-width="0.85" fill="none"/>
<path d="M111.73,562.17V565.80M109.53,562.17H113.93M109.53,565.80H113.93" stroke="#7a7a80" stroke-width="0.85" fill="none"/>
<path d="M115.78,558.66V562.45M113.58,558.66H117.98M113.58,562.45H117.98" stroke="#7a7a80" stroke-width="0.85" fill="none"/>
<path d="M119.83,554.94V559.04M117.63,554.94H122.03M117.63,559.04H122.03" stroke="#7a7a80" stroke-width="0.85" fill="none"/>
<path d="M123.88,551.25V555.67M121.68,551.25H126.08M121.68,555.67H126.08" stroke="#7a7a80" stroke-width="0.85" fill="none"/>
<path d="M127.92,547.60V552.33M125.72,547.60H130.12M125.72,552.33H130.12" stroke="#7a7a80" stroke-width="0.85" fill="none"/>
<path d="M131.97,543.77V548.83M129.77,543.77H134.17M129.77,548.83H134.17" stroke="#7a7a80" stroke-width="0.85" fill="none"/>
<path d="M136.02,539.79V545.16M133.82,539.79H138.22M133.82,545.16H138.22" stroke="#7a7a80" stroke-width="0.85" fill="none"/>
<path d="M140.07,535.84V541.53M137.87,535.84H142.27M137.87,541.53H142.27" stroke="#7a7a80" stroke-width="0.85" fill="none"/>
<path d="M144.12,531.98V537.98M141.92,531.98H146.32M141.92,537.98H146.32" stroke="#7a7a80" stroke-width="0.85" fill="none"/>
<path d="M148.17,528.15V534.46M145.97,528.15H150.37M145.97,534.46H150.37" stroke="#7a7a80" stroke-width="0.85" fill="none"/>
<path d="M152.22,524.44V531.08M150.02,524.44H154.41M150.02,531.08H154.41" stroke="#7a7a80" stroke-width="0.85" fill="none"/>
<path d="M156.26,520.74V527.69M154.06,520.74H158.46M154.06,527.69H158.46" stroke="#7a7a80" stroke-width="0.85" fill="none"/>
<path d="M160.31,516.96V524.23M158.11,516.96H162.51M158.11,524.23H162.51" stroke="#7a7a80" stroke-width="0.85" fill="none"/>
<path d="M164.36,513.02V520.60M162.16,513.02H166.56M162.16,520.60H166.56" stroke="#7a7a80" stroke-width="0.85" fill="none"/>
<path d="M168.41,509.07V516.97M166.21,509.07H170.61M166.21,516.97H170.61" stroke="#7a7a80" stroke-width="0.85" fill="none"/>
<path d="M172.46,504.90V513.11M170.26,504.90H174.66M170.26,513.11H174.66" stroke="#7a7a80" stroke-width="0.85" fill="none"/>
<path d="M176.50,500.34V508.87M174.31,500.34H178.70M174.31,508.87H178.70" stroke="#7a7a80" stroke-width="0.85" fill="none"/>
<path d="M180.55,496.26V505.10M178.35,496.26H182.75M178.35,505.10H182.75" stroke="#7a7a80" stroke-width="0.85" fill="none"/>
<path d="M184.60,492.50V501.66M182.40,492.50H186.80M182.40,501.66H186.80" stroke="#7a7a80" stroke-width="0.85" fill="none"/>
<path d="M188.65,488.75V498.23M186.45,488.75H190.85M186.45,498.23H190.85" stroke="#7a7a80" stroke-width="0.85" fill="none"/>
<path d="M192.70,485.00V494.79M190.50,485.00H194.90M190.50,494.79H194.90" stroke="#7a7a80" stroke-width="0.85" fill="none"/>
<path d="M196.75,481.03V491.13M194.55,481.03H198.95M194.55,491.13H198.95" stroke="#7a7a80" stroke-width="0.85" fill="none"/>
<path d="M200.80,477.05V487.47M198.60,477.05H203.00M198.60,487.47H203.00" stroke="#7a7a80" stroke-width="0.85" fill="none"/>
<path d="M204.84,473.07V483.81M202.64,473.07H207.04M202.64,483.81H207.04" stroke="#7a7a80" stroke-width="0.85" fill="none"/>
<path d="M208.89,469.17V480.22M206.69,469.17H211.09M206.69,480.22H211.09" stroke="#7a7a80" stroke-width="0.85" fill="none"/>
<path d="M212.94,465.59V476.96M210.74,465.59H215.14M210.74,476.96H215.14" stroke="#7a7a80" stroke-width="0.85" fill="none"/>
<path d="M216.99,462.07V473.63M214.79,462.07H219.19M214.79,473.63H219.19" stroke="#7a7a80" stroke-width="0.85" fill="none"/>
<path d="M221.04,458.56V470.30M218.84,458.56H223.24M218.84,470.30H223.24" stroke="#7a7a80" stroke-width="0.85" fill="none"/>
<path d="M225.08,455.04V466.98M222.88,455.04H227.28M222.88,466.98H227.28" stroke="#7a7a80" stroke-width="0.85" fill="none"/>
<path d="M229.13,451.53V463.66M226.93,451.53H231.33M226.93,463.66H231.33" stroke="#7a7a80" stroke-width="0.85" fill="none"/>
<path d="M233.18,448.03V460.35M230.98,448.03H235.38M230.98,460.35H235.38" stroke="#7a7a80" stroke-width="0.85" fill="none"/>
<path d="M237.23,444.53V457.03M235.03,444.53H239.43M235.03,457.03H239.43" stroke="#7a7a80" stroke-width="0.85" fill="none"/>
<path d="M241.28,441.03V453.72M239.08,441.03H243.48M239.08,453.72H243.48" stroke="#7a7a80" stroke-width="0.85" fill="none"/>
<path d="M245.33,437.52V450.41M243.13,437.52H247.53M243.13,450.41H247.53" stroke="#7a7a80" stroke-width="0.85" fill="none"/>
<path d="M249.38,434.02V447.09M247.18,434.02H251.57M247.18,447.09H251.57" stroke="#7a7a80" stroke-width="0.85" fill="none"/>
<path d="M253.42,430.53V443.79M251.22,430.53H255.62M251.22,443.79H255.62" stroke="#7a7a80" stroke-width="0.85" fill="none"/>
<path d="M257.47,427.04V440.49M255.27,427.04H259.67M255.27,440.49H259.67" stroke="#7a7a80" stroke-width="0.85" fill="none"/>
<path d="M261.52,423.55V437.19M259.32,423.55H263.72M259.32,437.19H263.72" stroke="#7a7a80" stroke-width="0.85" fill="none"/>
<path d="M265.57,420.06V433.89M263.37,420.06H267.77M263.37,433.89H267.77" stroke="#7a7a80" stroke-width="0.85" fill="none"/>
<path d="M269.62,416.57V430.59M267.42,416.57H271.82M267.42,430.59H271.82" stroke="#7a7a80" stroke-width="0.85" fill="none"/>
<path d="M273.67,413.08V427.29M271.47,413.08H275.87M271.47,427.29H275.87" stroke="#7a7a80" stroke-width="0.85" fill="none"/>
<path d="M277.71,409.51V423.91M275.51,409.51H279.91M275.51,423.91H279.91" stroke="#7a7a80" stroke-width="0.85" fill="none"/>
<path d="M281.76,405.94V420.52M279.56,405.94H283.96M279.56,420.52H283.96" stroke="#7a7a80" stroke-width="0.85" fill="none"/>
<path d="M285.81,402.37V417.14M283.61,402.37H288.01M283.61,417.14H288.01" stroke="#7a7a80" stroke-width="0.85" fill="none"/>
<path d="M289.86,398.79V413.76M287.66,398.79H292.06M287.66,413.76H292.06" stroke="#7a7a80" stroke-width="0.85" fill="none"/>
<path d="M293.91,395.22V410.37M291.71,395.22H296.11M291.71,410.37H296.11" stroke="#7a7a80" stroke-width="0.85" fill="none"/>
<polyline points="67.20,595.00 71.25,592.51 75.30,590.02 79.34,587.54 83.39,585.05 87.44,582.47 91.49,579.84 95.54,577.21 99.59,574.14 103.64,570.72 107.68,567.33 111.73,563.98 115.78,560.55 119.83,556.99 123.88,553.46 127.92,549.97 131.97,546.30 136.02,542.48 140.07,538.68 144.12,534.98 148.17,531.31 152.22,527.76 156.26,524.22 160.31,520.59 164.36,516.81 168.41,513.02 172.46,509.00 176.50,504.61 180.55,500.68 184.60,497.08 188.65,493.49 192.70,489.90 196.75,486.08 200.80,482.26 204.84,478.44 208.89,474.69 212.94,471.27 216.99,467.85 221.04,464.43 225.08,461.01 229.13,457.60 233.18,454.19 237.23,450.78 241.28,447.37 245.33,443.97 249.38,440.56 253.42,437.16 257.47,433.77 261.52,430.37 265.57,426.98 269.62,423.58 273.67,420.19 277.71,416.71 281.76,413.23 285.81,409.75 289.86,406.27 293.91,402.80" fill="none" stroke="#1a1a1a" stroke-width="0.7"/>
<path d="M67.20,591.54L70.30,597.12L64.10,597.12Z" fill="#e08a3e" stroke="#3a2510" stroke-width="0.55"/>
<path d="M71.25,589.05L74.35,594.63L68.15,594.63Z" fill="#e08a3e" stroke="#3a2510" stroke-width="0.55"/>
<path d="M75.30,586.56L78.40,592.14L72.20,592.14Z" fill="#e08a3e" stroke="#3a2510" stroke-width="0.55"/>
<path d="M79.34,584.08L82.44,589.66L76.25,589.66Z" fill="#e08a3e" stroke="#3a2510" stroke-width="0.55"/>
<path d="M83.39,581.59L86.49,587.17L80.29,587.17Z" fill="#e08a3e" stroke="#3a2510" stroke-width="0.55"/>
<path d="M87.44,579.01L90.54,584.59L84.34,584.59Z" fill="#e08a3e" stroke="#3a2510" stroke-width="0.55"/>
<path d="M91.49,576.38L94.59,581.96L88.39,581.96Z" fill="#e08a3e" stroke="#3a2510" stroke-width="0.55"/>
<path d="M95.54,573.75L98.64,579.33L92.44,579.33Z" fill="#e08a3e" stroke="#3a2510" stroke-width="0.55"/>
<path d="M99.59,570.68L102.69,576.26L96.49,576.26Z" fill="#e08a3e" stroke="#3a2510" stroke-width="0.55"/>
<path d="M103.64,567.26L106.73,572.84L100.54,572.84Z" fill="#e08a3e" stroke="#3a2510" stroke-width="0.55"/>
<path d="M107.68,563.87L110.78,569.45L104.58,569.45Z" fill="#e08a3e" stroke="#3a2510" stroke-width="0.55"/>
<path d="M111.73,560.52L114.83,566.10L108.63,566.10Z" fill="#e08a3e" stroke="#3a2510" stroke-width="0.55"/>
<path d="M115.78,557.09L118.88,562.67L112.68,562.67Z" fill="#e08a3e" stroke="#3a2510" stroke-width="0.55"/>
<path d="M119.83,553.53L122.93,559.11L116.73,559.11Z" fill="#e08a3e" stroke="#3a2510" stroke-width="0.55"/>
<path d="M123.88,550.00L126.98,555.58L120.78,555.58Z" fill="#e08a3e" stroke="#3a2510" stroke-width="0.55"/>
<path d="M127.92,546.51L131.03,552.09L124.83,552.09Z" fill="#e08a3e" stroke="#3a2510" stroke-width="0.55"/>
<path d="M131.97,542.84L135.07,548.42L128.87,548.42Z" fill="#e08a3e" stroke="#3a2510" stroke-width="0.55"/>
<path d="M136.02,539.02L139.12,544.60L132.92,544.60Z" fill="#e08a3e" stroke="#3a2510" stroke-width="0.55"/>
<path d="M140.07,535.22L143.17,540.80L136.97,540.80Z" fill="#e08a3e" stroke="#3a2510" stroke-width="0.55"/>
<path d="M144.12,531.52L147.22,537.10L141.02,537.10Z" fill="#e08a3e" stroke="#3a2510" stroke-width="0.55"/>
<path d="M148.17,527.85L151.27,533.43L145.07,533.43Z" fill="#e08a3e" stroke="#3a2510" stroke-width="0.55"/>
<path d="M152.22,524.30L155.31,529.88L149.12,529.88Z" fill="#e08a3e" stroke="#3a2510" stroke-width="0.55"/>
<path d="M156.26,520.76L159.36,526.34L153.16,526.34Z" fill="#e08a3e" stroke="#3a2510" stroke-width="0.55"/>
<path d="M160.31,517.13L163.41,522.71L157.21,522.71Z" fill="#e08a3e" stroke="#3a2510" stroke-width="0.55"/>
<path d="M164.36,513.35L167.46,518.93L161.26,518.93Z" fill="#e08a3e" stroke="#3a2510" stroke-width="0.55"/>
<path d="M168.41,509.56L171.51,515.14L165.31,515.14Z" fill="#e08a3e" stroke="#3a2510" stroke-width="0.55"/>
<path d="M172.46,505.54L175.56,511.12L169.36,511.12Z" fill="#e08a3e" stroke="#3a2510" stroke-width="0.55"/>
<path d="M176.50,501.15L179.60,506.73L173.41,506.73Z" fill="#e08a3e" stroke="#3a2510" stroke-width="0.55"/>
<path d="M180.55,497.22L183.65,502.80L177.45,502.80Z" fill="#e08a3e" stroke="#3a2510" stroke-width="0.55"/>
<path d="M184.60,493.62L187.70,499.20L181.50,499.20Z" fill="#e08a3e" stroke="#3a2510" stroke-width="0.55"/>
<path d="M188.65,490.03L191.75,495.61L185.55,495.61Z" fill="#e08a3e" stroke="#3a2510" stroke-width="0.55"/>
<path d="M192.70,486.44L195.80,492.02L189.60,492.02Z" fill="#e08a3e" stroke="#3a2510" stroke-width="0.55"/>
<path d="M196.75,482.62L199.85,488.20L193.65,488.20Z" fill="#e08a3e" stroke="#3a2510" stroke-width="0.55"/>
<path d="M200.80,478.80L203.90,484.38L197.70,484.38Z" fill="#e08a3e" stroke="#3a2510" stroke-width="0.55"/>
<path d="M204.84,474.98L207.94,480.56L201.74,480.56Z" fill="#e08a3e" stroke="#3a2510" stroke-width="0.55"/>
<path d="M208.89,471.23L211.99,476.81L205.79,476.81Z" fill="#e08a3e" stroke="#3a2510" stroke-width="0.55"/>
<path d="M212.94,467.81L216.04,473.39L209.84,473.39Z" fill="#e08a3e" stroke="#3a2510" stroke-width="0.55"/>
<path d="M216.99,464.39L220.09,469.97L213.89,469.97Z" fill="#e08a3e" stroke="#3a2510" stroke-width="0.55"/>
<path d="M221.04,460.97L224.14,466.55L217.94,466.55Z" fill="#e08a3e" stroke="#3a2510" stroke-width="0.55"/>
<path d="M225.08,457.55L228.18,463.13L221.98,463.13Z" fill="#e08a3e" stroke="#3a2510" stroke-width="0.55"/>
<path d="M229.13,454.14L232.23,459.72L226.03,459.72Z" fill="#e08a3e" stroke="#3a2510" stroke-width="0.55"/>
<path d="M233.18,450.73L236.28,456.31L230.08,456.31Z" fill="#e08a3e" stroke="#3a2510" stroke-width="0.55"/>
<path d="M237.23,447.32L240.33,452.90L234.13,452.90Z" fill="#e08a3e" stroke="#3a2510" stroke-width="0.55"/>
<path d="M241.28,443.91L244.38,449.49L238.18,449.49Z" fill="#e08a3e" stroke="#3a2510" stroke-width="0.55"/>
<path d="M245.33,440.51L248.43,446.09L242.23,446.09Z" fill="#e08a3e" stroke="#3a2510" stroke-width="0.55"/>
<path d="M249.38,437.10L252.47,442.68L246.28,442.68Z" fill="#e08a3e" stroke="#3a2510" stroke-width="0.55"/>
<path d="M253.42,433.70L256.52,439.28L250.32,439.28Z" fill="#e08a3e" stroke="#3a2510" stroke-width="0.55"/>
<path d="M257.47,430.31L260.57,435.89L254.37,435.89Z" fill="#e08a3e" stroke="#3a2510" stroke-width="0.55"/>
<path d="M261.52,426.91L264.62,432.49L258.42,432.49Z" fill="#e08a3e" stroke="#3a2510" stroke-width="0.55"/>
<path d="M265.57,423.52L268.67,429.10L262.47,429.10Z" fill="#e08a3e" stroke="#3a2510" stroke-width="0.55"/>
<path d="M269.62,420.12L272.72,425.70L266.52,425.70Z" fill="#e08a3e" stroke="#3a2510" stroke-width="0.55"/>
<path d="M273.67,416.73L276.77,422.31L270.56,422.31Z" fill="#e08a3e" stroke="#3a2510" stroke-width="0.55"/>
<path d="M277.71,413.25L280.81,418.83L274.61,418.83Z" fill="#e08a3e" stroke="#3a2510" stroke-width="0.55"/>
<path d="M281.76,409.77L284.86,415.35L278.66,415.35Z" fill="#e08a3e" stroke="#3a2510" stroke-width="0.55"/>
<path d="M285.81,406.29L288.91,411.87L282.71,411.87Z" fill="#e08a3e" stroke="#3a2510" stroke-width="0.55"/>
<path d="M289.86,402.81L292.96,408.39L286.76,408.39Z" fill="#e08a3e" stroke="#3a2510" stroke-width="0.55"/>
<path d="M293.91,399.34L297.01,404.92L290.81,404.92Z" fill="#e08a3e" stroke="#3a2510" stroke-width="0.55"/>
<polyline points="67.20,595.00 71.25,594.13 75.30,593.27 79.34,592.40 83.39,591.54 87.44,589.94 91.49,587.89 95.54,585.85 99.59,583.66 103.64,581.24 107.68,578.61 111.73,575.78 115.78,572.90 119.83,570.00 123.88,567.64 127.92,565.41 131.97,562.54 136.02,559.78 140.07,557.10 144.12,553.51 148.17,549.92 152.22,546.38 156.26,542.83 160.31,539.28 164.36,535.59 168.41,531.91 172.46,528.56 176.50,525.78 180.55,522.66 184.60,518.91 188.65,515.15 192.70,511.39 196.75,507.64 200.80,504.44 204.84,502.02 208.89,499.60 212.94,497.18 216.99,494.76 221.04,491.82 225.08,488.83 229.13,485.84 233.18,482.85 237.23,479.86 241.28,476.86 245.33,473.87 249.38,470.87 253.42,467.87 257.47,464.87 261.52,461.88 265.57,458.81 269.62,455.75 273.67,452.68 277.71,449.62 281.76,446.56 285.81,443.49 289.86,440.43 293.91,437.36" fill="none" stroke="#222" stroke-width="0.7"/>
<path d="M67.20,591.80L70.40,595.00L67.20,598.20L64.00,595.00Z" fill="#9fd0de" stroke="#2c3f50" stroke-width="0.55"/>
<path d="M71.25,590.93L74.45,594.13L71.25,597.33L68.05,594.13Z" fill="#9fd0de" stroke="#2c3f50" stroke-width="0.55"/>
<path d="M75.30,590.07L78.50,593.27L75.30,596.47L72.10,593.27Z" fill="#9fd0de" stroke="#2c3f50" stroke-width="0.55"/>
<path d="M79.34,589.20L82.55,592.40L79.34,595.60L76.14,592.40Z" fill="#9fd0de" stroke="#2c3f50" stroke-width="0.55"/>
<path d="M83.39,588.34L86.59,591.54L83.39,594.74L80.19,591.54Z" fill="#9fd0de" stroke="#2c3f50" stroke-width="0.55"/>
<path d="M87.44,586.74L90.64,589.94L87.44,593.14L84.24,589.94Z" fill="#9fd0de" stroke="#2c3f50" stroke-width="0.55"/>
<path d="M91.49,584.69L94.69,587.89L91.49,591.09L88.29,587.89Z" fill="#9fd0de" stroke="#2c3f50" stroke-width="0.55"/>
<path d="M95.54,582.65L98.74,585.85L95.54,589.05L92.34,585.85Z" fill="#9fd0de" stroke="#2c3f50" stroke-width="0.55"/>
<path d="M99.59,580.46L102.79,583.66L99.59,586.86L96.39,583.66Z" fill="#9fd0de" stroke="#2c3f50" stroke-width="0.55"/>
<path d="M103.64,578.04L106.84,581.24L103.64,584.44L100.44,581.24Z" fill="#9fd0de" stroke="#2c3f50" stroke-width="0.55"/>
<path d="M107.68,575.41L110.88,578.61L107.68,581.81L104.48,578.61Z" fill="#9fd0de" stroke="#2c3f50" stroke-width="0.55"/>
<path d="M111.73,572.58L114.93,575.78L111.73,578.98L108.53,575.78Z" fill="#9fd0de" stroke="#2c3f50" stroke-width="0.55"/>
<path d="M115.78,569.70L118.98,572.90L115.78,576.10L112.58,572.90Z" fill="#9fd0de" stroke="#2c3f50" stroke-width="0.55"/>
<path d="M119.83,566.80L123.03,570.00L119.83,573.20L116.63,570.00Z" fill="#9fd0de" stroke="#2c3f50" stroke-width="0.55"/>
<path d="M123.88,564.44L127.08,567.64L123.88,570.84L120.68,567.64Z" fill="#9fd0de" stroke="#2c3f50" stroke-width="0.55"/>
<path d="M127.92,562.21L131.12,565.41L127.92,568.61L124.72,565.41Z" fill="#9fd0de" stroke="#2c3f50" stroke-width="0.55"/>
<path d="M131.97,559.34L135.17,562.54L131.97,565.74L128.77,562.54Z" fill="#9fd0de" stroke="#2c3f50" stroke-width="0.55"/>
<path d="M136.02,556.58L139.22,559.78L136.02,562.98L132.82,559.78Z" fill="#9fd0de" stroke="#2c3f50" stroke-width="0.55"/>
<path d="M140.07,553.90L143.27,557.10L140.07,560.30L136.87,557.10Z" fill="#9fd0de" stroke="#2c3f50" stroke-width="0.55"/>
<path d="M144.12,550.31L147.32,553.51L144.12,556.71L140.92,553.51Z" fill="#9fd0de" stroke="#2c3f50" stroke-width="0.55"/>
<path d="M148.17,546.72L151.37,549.92L148.17,553.12L144.97,549.92Z" fill="#9fd0de" stroke="#2c3f50" stroke-width="0.55"/>
<path d="M152.22,543.18L155.41,546.38L152.22,549.58L149.02,546.38Z" fill="#9fd0de" stroke="#2c3f50" stroke-width="0.55"/>
<path d="M156.26,539.63L159.46,542.83L156.26,546.03L153.06,542.83Z" fill="#9fd0de" stroke="#2c3f50" stroke-width="0.55"/>
<path d="M160.31,536.08L163.51,539.28L160.31,542.48L157.11,539.28Z" fill="#9fd0de" stroke="#2c3f50" stroke-width="0.55"/>
<path d="M164.36,532.39L167.56,535.59L164.36,538.79L161.16,535.59Z" fill="#9fd0de" stroke="#2c3f50" stroke-width="0.55"/>
<path d="M168.41,528.71L171.61,531.91L168.41,535.11L165.21,531.91Z" fill="#9fd0de" stroke="#2c3f50" stroke-width="0.55"/>
<path d="M172.46,525.36L175.66,528.56L172.46,531.76L169.26,528.56Z" fill="#9fd0de" stroke="#2c3f50" stroke-width="0.55"/>
<path d="M176.50,522.58L179.70,525.78L176.50,528.98L173.31,525.78Z" fill="#9fd0de" stroke="#2c3f50" stroke-width="0.55"/>
<path d="M180.55,519.46L183.75,522.66L180.55,525.86L177.35,522.66Z" fill="#9fd0de" stroke="#2c3f50" stroke-width="0.55"/>
<path d="M184.60,515.71L187.80,518.91L184.60,522.11L181.40,518.91Z" fill="#9fd0de" stroke="#2c3f50" stroke-width="0.55"/>
<path d="M188.65,511.95L191.85,515.15L188.65,518.35L185.45,515.15Z" fill="#9fd0de" stroke="#2c3f50" stroke-width="0.55"/>
<path d="M192.70,508.19L195.90,511.39L192.70,514.59L189.50,511.39Z" fill="#9fd0de" stroke="#2c3f50" stroke-width="0.55"/>
<path d="M196.75,504.44L199.95,507.64L196.75,510.84L193.55,507.64Z" fill="#9fd0de" stroke="#2c3f50" stroke-width="0.55"/>
<path d="M200.80,501.24L204.00,504.44L200.80,507.64L197.60,504.44Z" fill="#9fd0de" stroke="#2c3f50" stroke-width="0.55"/>
<path d="M204.84,498.82L208.04,502.02L204.84,505.22L201.64,502.02Z" fill="#9fd0de" stroke="#2c3f50" stroke-width="0.55"/>
<path d="M208.89,496.40L212.09,499.60L208.89,502.80L205.69,499.60Z" fill="#9fd0de" stroke="#2c3f50" stroke-width="0.55"/>
<path d="M212.94,493.98L216.14,497.18L212.94,500.38L209.74,497.18Z" fill="#9fd0de" stroke="#2c3f50" stroke-width="0.55"/>
<path d="M216.99,491.56L220.19,494.76L216.99,497.96L213.79,494.76Z" fill="#9fd0de" stroke="#2c3f50" stroke-width="0.55"/>
<path d="M221.04,488.62L224.24,491.82L221.04,495.02L217.84,491.82Z" fill="#9fd0de" stroke="#2c3f50" stroke-width="0.55"/>
<path d="M225.08,485.63L228.28,488.83L225.08,492.03L221.88,488.83Z" fill="#9fd0de" stroke="#2c3f50" stroke-width="0.55"/>
<path d="M229.13,482.64L232.33,485.84L229.13,489.04L225.93,485.84Z" fill="#9fd0de" stroke="#2c3f50" stroke-width="0.55"/>
<path d="M233.18,479.65L236.38,482.85L233.18,486.05L229.98,482.85Z" fill="#9fd0de" stroke="#2c3f50" stroke-width="0.55"/>
<path d="M237.23,476.66L240.43,479.86L237.23,483.06L234.03,479.86Z" fill="#9fd0de" stroke="#2c3f50" stroke-width="0.55"/>
<path d="M241.28,473.66L244.48,476.86L241.28,480.06L238.08,476.86Z" fill="#9fd0de" stroke="#2c3f50" stroke-width="0.55"/>
<path d="M245.33,470.67L248.53,473.87L245.33,477.07L242.13,473.87Z" fill="#9fd0de" stroke="#2c3f50" stroke-width="0.55"/>
<path d="M249.38,467.67L252.57,470.87L249.38,474.07L246.18,470.87Z" fill="#9fd0de" stroke="#2c3f50" stroke-width="0.55"/>
<path d="M253.42,464.67L256.62,467.87L253.42,471.07L250.22,467.87Z" fill="#9fd0de" stroke="#2c3f50" stroke-width="0.55"/>
<path d="M257.47,461.67L260.67,464.87L257.47,468.07L254.27,464.87Z" fill="#9fd0de" stroke="#2c3f50" stroke-width="0.55"/>
<path d="M261.52,458.68L264.72,461.88L261.52,465.08L258.32,461.88Z" fill="#9fd0de" stroke="#2c3f50" stroke-width="0.55"/>
<path d="M265.57,455.61L268.77,458.81L265.57,462.01L262.37,458.81Z" fill="#9fd0de" stroke="#2c3f50" stroke-width="0.55"/>
<path d="M269.62,452.55L272.82,455.75L269.62,458.95L266.42,455.75Z" fill="#9fd0de" stroke="#2c3f50" stroke-width="0.55"/>
<path d="M273.67,449.48L276.87,452.68L273.67,455.88L270.47,452.68Z" fill="#9fd0de" stroke="#2c3f50" stroke-width="0.55"/>
<path d="M277.71,446.42L280.91,449.62L277.71,452.82L274.51,449.62Z" fill="#9fd0de" stroke="#2c3f50" stroke-width="0.55"/>
<path d="M281.76,443.36L284.96,446.56L281.76,449.76L278.56,446.56Z" fill="#9fd0de" stroke="#2c3f50" stroke-width="0.55"/>
<path d="M285.81,440.29L289.01,443.49L285.81,446.69L282.61,443.49Z" fill="#9fd0de" stroke="#2c3f50" stroke-width="0.55"/>
<path d="M289.86,437.23L293.06,440.43L289.86,443.63L286.66,440.43Z" fill="#9fd0de" stroke="#2c3f50" stroke-width="0.55"/>
<path d="M293.91,434.16L297.11,437.36L293.91,440.56L290.71,437.36Z" fill="#9fd0de" stroke="#2c3f50" stroke-width="0.55"/>
<path d="M67.20,598.01L69.90,593.15L64.50,593.15Z" fill="#1d2352" stroke="#0c0f25" stroke-width="0.5"/>
<path d="M71.25,596.36L73.95,591.50L68.55,591.50Z" fill="#1d2352" stroke="#0c0f25" stroke-width="0.5"/>
<path d="M75.30,594.70L78.00,589.84L72.60,589.84Z" fill="#1d2352" stroke="#0c0f25" stroke-width="0.5"/>
<path d="M79.34,593.05L82.05,588.19L76.64,588.19Z" fill="#1d2352" stroke="#0c0f25" stroke-width="0.5"/>
<path d="M83.39,591.71L86.09,586.85L80.69,586.85Z" fill="#1d2352" stroke="#0c0f25" stroke-width="0.5"/>
<path d="M87.44,589.64L90.14,584.78L84.74,584.78Z" fill="#1d2352" stroke="#0c0f25" stroke-width="0.5"/>
<path d="M91.49,587.12L94.19,582.26L88.79,582.26Z" fill="#1d2352" stroke="#0c0f25" stroke-width="0.5"/>
<path d="M95.54,585.11L98.24,580.25L92.84,580.25Z" fill="#1d2352" stroke="#0c0f25" stroke-width="0.5"/>
<path d="M99.59,582.96L102.29,578.10L96.89,578.10Z" fill="#1d2352" stroke="#0c0f25" stroke-width="0.5"/>
<path d="M103.64,580.58L106.34,575.72L100.94,575.72Z" fill="#1d2352" stroke="#0c0f25" stroke-width="0.5"/>
<path d="M107.68,577.99L110.38,573.13L104.98,573.13Z" fill="#1d2352" stroke="#0c0f25" stroke-width="0.5"/>
<path d="M111.73,575.20L114.43,570.34L109.03,570.34Z" fill="#1d2352" stroke="#0c0f25" stroke-width="0.5"/>
<path d="M115.78,572.36L118.48,567.50L113.08,567.50Z" fill="#1d2352" stroke="#0c0f25" stroke-width="0.5"/>
<path d="M119.83,569.50L122.53,564.64L117.13,564.64Z" fill="#1d2352" stroke="#0c0f25" stroke-width="0.5"/>
<path d="M123.88,567.18L126.58,562.32L121.18,562.32Z" fill="#1d2352" stroke="#0c0f25" stroke-width="0.5"/>
<path d="M127.92,564.99L130.62,560.13L125.22,560.13Z" fill="#1d2352" stroke="#0c0f25" stroke-width="0.5"/>
<path d="M131.97,562.15L134.67,557.29L129.27,557.29Z" fill="#1d2352" stroke="#0c0f25" stroke-width="0.5"/>
<path d="M136.02,559.44L138.72,554.58L133.32,554.58Z" fill="#1d2352" stroke="#0c0f25" stroke-width="0.5"/>
<path d="M140.07,556.80L142.77,551.94L137.37,551.94Z" fill="#1d2352" stroke="#0c0f25" stroke-width="0.5"/>
<path d="M144.12,553.37L146.82,548.51L141.42,548.51Z" fill="#1d2352" stroke="#0c0f25" stroke-width="0.5"/>
<path d="M148.17,549.94L150.87,545.08L145.47,545.08Z" fill="#1d2352" stroke="#0c0f25" stroke-width="0.5"/>
<path d="M152.22,546.55L154.91,541.69L149.52,541.69Z" fill="#1d2352" stroke="#0c0f25" stroke-width="0.5"/>
<path d="M156.26,543.16L158.96,538.30L153.56,538.30Z" fill="#1d2352" stroke="#0c0f25" stroke-width="0.5"/>
<path d="M160.31,539.76L163.01,534.90L157.61,534.90Z" fill="#1d2352" stroke="#0c0f25" stroke-width="0.5"/>
<path d="M164.36,536.24L167.06,531.38L161.66,531.38Z" fill="#1d2352" stroke="#0c0f25" stroke-width="0.5"/>
<path d="M168.41,532.71L171.11,527.85L165.71,527.85Z" fill="#1d2352" stroke="#0c0f25" stroke-width="0.5"/>
<path d="M172.46,529.52L175.16,524.66L169.76,524.66Z" fill="#1d2352" stroke="#0c0f25" stroke-width="0.5"/>
<path d="M176.50,526.89L179.20,522.03L173.81,522.03Z" fill="#1d2352" stroke="#0c0f25" stroke-width="0.5"/>
<path d="M180.55,523.81L183.25,518.95L177.85,518.95Z" fill="#1d2352" stroke="#0c0f25" stroke-width="0.5"/>
<path d="M184.60,520.09L187.30,515.23L181.90,515.23Z" fill="#1d2352" stroke="#0c0f25" stroke-width="0.5"/>
<path d="M188.65,516.37L191.35,511.51L185.95,511.51Z" fill="#1d2352" stroke="#0c0f25" stroke-width="0.5"/>
<path d="M192.70,512.64L195.40,507.78L190.00,507.78Z" fill="#1d2352" stroke="#0c0f25" stroke-width="0.5"/>
<path d="M196.75,508.92L199.45,504.06L194.05,504.06Z" fill="#1d2352" stroke="#0c0f25" stroke-width="0.5"/>
<path d="M200.80,505.76L203.50,500.90L198.10,500.90Z" fill="#1d2352" stroke="#0c0f25" stroke-width="0.5"/>
<path d="M204.84,503.37L207.54,498.51L202.14,498.51Z" fill="#1d2352" stroke="#0c0f25" stroke-width="0.5"/>
<path d="M208.89,500.98L211.59,496.12L206.19,496.12Z" fill="#1d2352" stroke="#0c0f25" stroke-width="0.5"/>
<path d="M212.94,498.59L215.64,493.73L210.24,493.73Z" fill="#1d2352" stroke="#0c0f25" stroke-width="0.5"/>
<path d="M216.99,496.20L219.69,491.34L214.29,491.34Z" fill="#1d2352" stroke="#0c0f25" stroke-width="0.5"/>
<path d="M221.04,493.29L223.74,488.43L218.34,488.43Z" fill="#1d2352" stroke="#0c0f25" stroke-width="0.5"/>
<path d="M225.08,490.34L227.78,485.48L222.38,485.48Z" fill="#1d2352" stroke="#0c0f25" stroke-width="0.5"/>
<path d="M229.13,487.38L231.83,482.52L226.43,482.52Z" fill="#1d2352" stroke="#0c0f25" stroke-width="0.5"/>
<path d="M233.18,484.43L235.88,479.57L230.48,479.57Z" fill="#1d2352" stroke="#0c0f25" stroke-width="0.5"/>
<path d="M237.23,481.47L239.93,476.61L234.53,476.61Z" fill="#1d2352" stroke="#0c0f25" stroke-width="0.5"/>
<path d="M241.28,478.50L243.98,473.64L238.58,473.64Z" fill="#1d2352" stroke="#0c0f25" stroke-width="0.5"/>
<path d="M245.33,475.54L248.03,470.68L242.63,470.68Z" fill="#1d2352" stroke="#0c0f25" stroke-width="0.5"/>
<path d="M249.38,472.57L252.07,467.71L246.68,467.71Z" fill="#1d2352" stroke="#0c0f25" stroke-width="0.5"/>
<path d="M253.42,469.61L256.12,464.75L250.72,464.75Z" fill="#1d2352" stroke="#0c0f25" stroke-width="0.5"/>
<path d="M257.47,466.64L260.17,461.78L254.77,461.78Z" fill="#1d2352" stroke="#0c0f25" stroke-width="0.5"/>
<path d="M261.52,463.68L264.22,458.82L258.82,458.82Z" fill="#1d2352" stroke="#0c0f25" stroke-width="0.5"/>
<path d="M265.57,460.65L268.27,455.79L262.87,455.79Z" fill="#1d2352" stroke="#0c0f25" stroke-width="0.5"/>
<path d="M269.62,457.62L272.32,452.76L266.92,452.76Z" fill="#1d2352" stroke="#0c0f25" stroke-width="0.5"/>
<path d="M273.67,454.59L276.37,449.73L270.97,449.73Z" fill="#1d2352" stroke="#0c0f25" stroke-width="0.5"/>
<path d="M277.71,451.55L280.41,446.69L275.01,446.69Z" fill="#1d2352" stroke="#0c0f25" stroke-width="0.5"/>
<path d="M281.76,448.52L284.46,443.66L279.06,443.66Z" fill="#1d2352" stroke="#0c0f25" stroke-width="0.5"/>
<path d="M285.81,445.49L288.51,440.63L283.11,440.63Z" fill="#1d2352" stroke="#0c0f25" stroke-width="0.5"/>
<path d="M289.86,442.46L292.56,437.60L287.16,437.60Z" fill="#1d2352" stroke="#0c0f25" stroke-width="0.5"/>
<path d="M293.91,439.43L296.61,434.57L291.21,434.57Z" fill="#1d2352" stroke="#0c0f25" stroke-width="0.5"/>
<path d="M67.90,395.24L71.00,400.82L64.80,400.82Z" fill="#e08a3e" stroke="#3a2510" stroke-width="0.6"/>
<path d="M67.90,408.00L71.10,411.20L67.90,414.40L64.70,411.20Z" fill="#9fd0de" stroke="#2c3f50" stroke-width="0.6"/>
<path d="M67.90,426.86L70.10,422.90L65.70,422.90Z" fill="#1d2352" stroke="#0c0f25" stroke-width="0.5"/>
<text x="83.60" y="402.30" font-size="10.45" text-anchor="start" fill="#222" font-weight="normal" >HXK2-G6PDH-forizymes</text>
<text x="83.60" y="414.80" font-size="10.45" text-anchor="start" fill="#222" font-weight="normal" >HXK2-forizymes + G6PDH-forizymes</text>
<text x="83.60" y="428.00" font-size="10.45" text-anchor="start" fill="#222" font-weight="normal" >soluble HXK + soluble G6PDH</text>
<path d="M303,400.4H332.5M303,434.0H332.5" stroke="#1a1a1a" stroke-width="1.15" stroke-dasharray="2.7,1.5"/>
<path d="M316.2,404.5V430" stroke="#111" stroke-width="1.3"/>
<path d="M316.2,401.8L313.3,407.2L319.1,407.2Z M316.2,432.6L313.3,427.2L319.1,427.2Z" fill="#111"/>
<text x="321.40" y="421.20" font-size="10.3" text-anchor="start" fill="#222" font-weight="normal" >1.3-fold</text>
<text transform="translate(378.7,351.5) scale(0.88,1)" font-size="18.4" font-weight="bold" fill="#111">d</text>
<line x1="408.00" y1="389.00" x2="408.00" y2="600.90" stroke="#444" stroke-width="1.3" />
<line x1="407.40" y1="600.30" x2="683.00" y2="600.30" stroke="#222" stroke-width="1.3" />
<line x1="403.50" y1="592.84" x2="408.00" y2="592.84" stroke="#444" stroke-width="1.0" />
<text x="401.20" y="595.94" font-size="9.9" text-anchor="end" fill="#222" font-weight="normal" >0.6</text>
<line x1="403.50" y1="553.68" x2="408.00" y2="553.68" stroke="#444" stroke-width="1.0" />
<text x="401.20" y="556.78" font-size="9.9" text-anchor="end" fill="#222" font-weight="normal" >0.7</text>
<line x1="403.50" y1="514.52" x2="408.00" y2="514.52" stroke="#444" stroke-width="1.0" />
<text x="401.20" y="517.62" font-size="9.9" text-anchor="end" fill="#222" font-weight="normal" >0.8</text>
<line x1="403.50" y1="475.36" x2="408.00" y2="475.36" stroke="#444" stroke-width="1.0" />
<text x="401.20" y="478.46" font-size="9.9" text-anchor="end" fill="#222" font-weight="normal" >0.9</text>
<line x1="403.50" y1="436.20" x2="408.00" y2="436.20" stroke="#444" stroke-width="1.0" />
<text x="401.20" y="439.30" font-size="9.9" text-anchor="end" fill="#222" font-weight="normal" >1.0</text>
<line x1="403.50" y1="397.04" x2="408.00" y2="397.04" stroke="#444" stroke-width="1.0" />
<text x="401.20" y="400.14" font-size="9.9" text-anchor="end" fill="#222" font-weight="normal" >1.1</text>
<line x1="405.60" y1="573.26" x2="408.00" y2="573.26" stroke="#444" stroke-width="1.0" />
<line x1="405.60" y1="534.10" x2="408.00" y2="534.10" stroke="#444" stroke-width="1.0" />
<line x1="405.60" y1="494.94" x2="408.00" y2="494.94" stroke="#444" stroke-width="1.0" />
<line x1="405.60" y1="455.78" x2="408.00" y2="455.78" stroke="#444" stroke-width="1.0" />
<line x1="405.60" y1="416.62" x2="408.00" y2="416.62" stroke="#444" stroke-width="1.0" />
<text transform="translate(378.7,494.0) rotate(-90)" font-size="11.1" text-anchor="middle" fill="#222">relative reaction rate</text>
<rect x="424.60" y="426.5" width="59" height="18.90" fill="none" stroke="#e69a52" stroke-width="1"/>
<line x1="424.60" y1="436.20" x2="483.60" y2="436.20" stroke="#e69a52" stroke-width="1" />
<line x1="454.10" y1="426.50" x2="454.10" y2="418.60" stroke="#e69a52" stroke-width="1" />
<line x1="450.30" y1="418.60" x2="457.90" y2="418.60" stroke="#e69a52" stroke-width="1" />
<line x1="454.10" y1="445.40" x2="454.10" y2="453.60" stroke="#e69a52" stroke-width="1" />
<line x1="450.30" y1="453.60" x2="457.90" y2="453.60" stroke="#e69a52" stroke-width="1" />
<path d="M452.10,393.40L456.10,397.40M456.10,393.40L452.10,397.40" stroke="#e69a52" stroke-width="0.9"/>
<path d="M452.10,463.40L456.10,467.40M456.10,463.40L452.10,467.40" stroke="#e69a52" stroke-width="0.9"/>
<circle cx="454.10" cy="436.2" r="1.5" fill="none" stroke="#e69a52" stroke-width="0.9"/>
<line x1="454.10" y1="600.30" x2="454.10" y2="604.80" stroke="#222" stroke-width="1.1" />
<rect x="516.50" y="472.7" width="59" height="52.20" fill="none" stroke="#8ccfdc" stroke-width="1"/>
<line x1="516.50" y1="506.40" x2="575.50" y2="506.40" stroke="#8ccfdc" stroke-width="1" />
<line x1="546.00" y1="472.70" x2="546.00" y2="472.50" stroke="#8ccfdc" stroke-width="1" />
<line x1="542.20" y1="472.50" x2="549.80" y2="472.50" stroke="#8ccfdc" stroke-width="1" />
<line x1="546.00" y1="524.90" x2="546.00" y2="533.90" stroke="#8ccfdc" stroke-width="1" />
<line x1="542.20" y1="533.90" x2="549.80" y2="533.90" stroke="#8ccfdc" stroke-width="1" />
<path d="M544.00,458.30L548.00,462.30M548.00,458.30L544.00,462.30" stroke="#8ccfdc" stroke-width="0.9"/>
<path d="M544.00,572.30L548.00,576.30M548.00,572.30L544.00,576.30" stroke="#8ccfdc" stroke-width="0.9"/>
<circle cx="546.00" cy="503.1" r="1.5" fill="none" stroke="#8ccfdc" stroke-width="0.9"/>
<line x1="546.00" y1="600.30" x2="546.00" y2="604.80" stroke="#222" stroke-width="1.1" />
<rect x="608.30" y="500.4" width="59" height="23.00" fill="none" stroke="#3b3d7e" stroke-width="1"/>
<line x1="608.30" y1="516.30" x2="667.30" y2="516.30" stroke="#3b3d7e" stroke-width="1" />
<line x1="637.80" y1="500.40" x2="637.80" y2="494.20" stroke="#3b3d7e" stroke-width="1" />
<line x1="634.00" y1="494.20" x2="641.60" y2="494.20" stroke="#3b3d7e" stroke-width="1" />
<line x1="637.80" y1="523.40" x2="637.80" y2="540.50" stroke="#3b3d7e" stroke-width="1" />
<line x1="634.00" y1="540.50" x2="641.60" y2="540.50" stroke="#3b3d7e" stroke-width="1" />
<path d="M635.80,488.80L639.80,492.80M639.80,488.80L635.80,492.80" stroke="#3b3d7e" stroke-width="0.9"/>
<path d="M635.80,591.20L639.80,595.20M639.80,591.20L635.80,595.20" stroke="#3b3d7e" stroke-width="0.9"/>
<rect x="636.30" y="515.5" width="3" height="3" fill="none" stroke="#3b3d7e" stroke-width="0.9"/>
<line x1="637.80" y1="600.30" x2="637.80" y2="604.80" stroke="#222" stroke-width="1.1" />
<path d="M536.20,444.50L542.20,444.50M537.70,441.90L540.70,447.10M540.70,441.90L537.70,447.10" stroke="#333" stroke-width="1.1"/>
<path d="M543.10,444.50L549.10,444.50M544.60,441.90L547.60,447.10M547.60,441.90L544.60,447.10" stroke="#333" stroke-width="1.1"/>
<path d="M550.00,444.50L556.00,444.50M551.50,441.90L554.50,447.10M554.50,441.90L551.50,447.10" stroke="#333" stroke-width="1.1"/>
<path d="M627.30,473.00L633.30,473.00M628.80,470.40L631.80,475.60M631.80,470.40L628.80,475.60" stroke="#333" stroke-width="1.1"/>
<path d="M634.20,473.00L640.20,473.00M635.70,470.40L638.70,475.60M638.70,470.40L635.70,475.60" stroke="#333" stroke-width="1.1"/>
<path d="M641.10,473.00L647.10,473.00M642.60,470.40L645.60,475.60M645.60,470.40L642.60,475.60" stroke="#333" stroke-width="1.1"/>
<text x="457.00" y="619.10" font-size="11.2" text-anchor="middle" fill="#222" font-weight="normal" >HXK2-G6PDH</text>
<text x="457.00" y="632.90" font-size="11.2" text-anchor="middle" fill="#222" font-weight="normal" >forizymes</text>
<text x="548.30" y="619.10" font-size="11.2" text-anchor="middle" fill="#222" font-weight="normal" >HXK2 forizymes</text>
<text x="548.30" y="632.90" font-size="11.2" text-anchor="middle" fill="#222" font-weight="normal" >+</text>
<text x="548.30" y="646.20" font-size="11.2" text-anchor="middle" fill="#222" font-weight="normal" >G6PDH forizymes</text>
<text x="640.00" y="619.10" font-size="11.2" text-anchor="middle" fill="#222" font-weight="normal" >soluble HXK</text>
<text x="640.00" y="632.90" font-size="11.2" text-anchor="middle" fill="#222" font-weight="normal" >+</text>
<text x="640.00" y="646.20" font-size="11.2" text-anchor="middle" fill="#222" font-weight="normal" >soluble G6PDH</text>
</svg>
</body></html>
